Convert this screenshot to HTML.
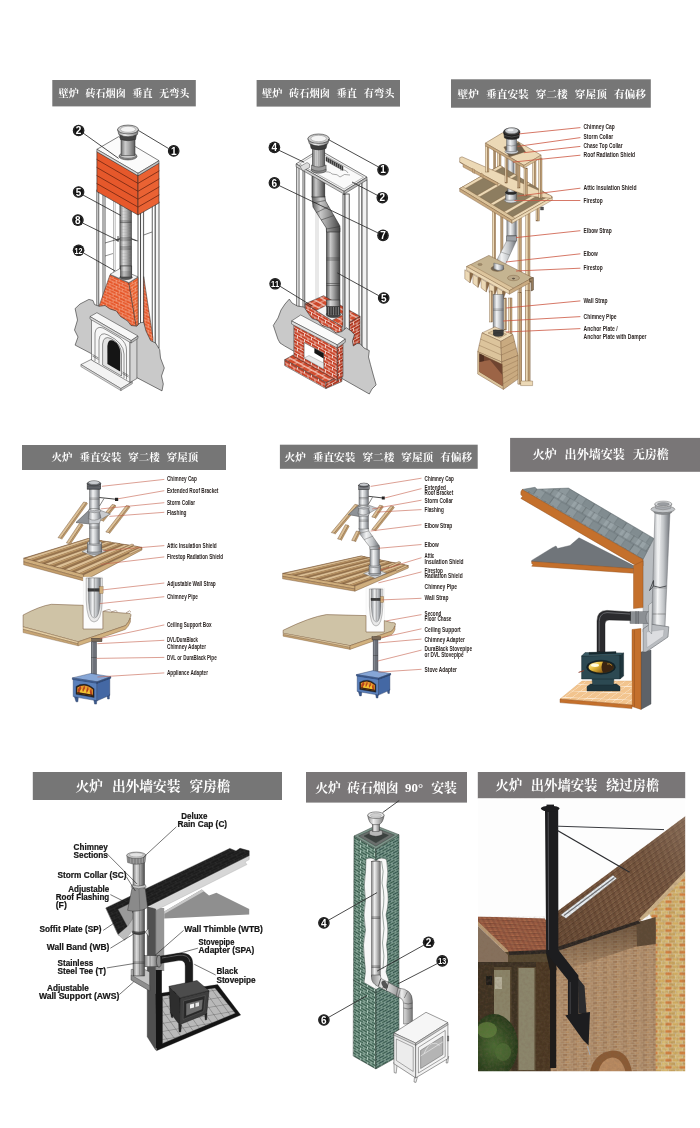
<!DOCTYPE html>
<html><head><meta charset="utf-8"><title>Chimney installation diagrams</title>
<style>
html,body{margin:0;padding:0;background:#fff;}
body{width:700px;height:1128px;overflow:hidden;font-family:"Liberation Sans",sans-serif;}
svg{display:block;filter:blur(0.35px);}
svg text{font-family:"Liberation Sans",sans-serif;}
svg text.ttl{font-family:"Liberation Serif","Noto Serif CJK SC",serif;font-weight:bold;}
</style></head><body>
<svg width="700" height="1128" viewBox="0 0 700 1128">
<defs>
<linearGradient id="pg" x1="0" x2="1" y1="0" y2="0"><stop offset="0" stop-color="#6e6e6e"/><stop offset=".3" stop-color="#d9d9d9"/><stop offset=".55" stop-color="#b5b5b5"/><stop offset="1" stop-color="#5a5a5a"/></linearGradient>
<pattern id="obL" width="6.4" height="6" patternUnits="userSpaceOnUse" patternTransform="skewY(24)"><rect width="6.4" height="6" fill="#e6582b"/><path d="M0,0.2H6.4M0,3.2H6.4M1,0.2V3.2M4.2,3.2V6" stroke="#fbd9c8" stroke-width="0.45" fill="none"/></pattern>
<pattern id="obR" width="6.4" height="6" patternUnits="userSpaceOnUse" patternTransform="skewY(-30)"><rect width="6.4" height="6" fill="#e8602f"/><path d="M0,0.2H6.4M0,3.2H6.4M1,0.2V3.2M4.2,3.2V6" stroke="#fbd9c8" stroke-width="0.45" fill="none"/></pattern>
<linearGradient id="pg2" x1="0" x2="1" y1="0" y2="0"><stop offset="0" stop-color="#8a8a8a"/><stop offset=".35" stop-color="#eeeeee"/><stop offset=".6" stop-color="#c4c4c4"/><stop offset="1" stop-color="#777"/></linearGradient>
<linearGradient id="pgd" x1="0" x2="1" y1="0" y2="0"><stop offset="0" stop-color="#5c5c5c"/><stop offset=".3" stop-color="#c9c9c9"/><stop offset=".55" stop-color="#9c9c9c"/><stop offset="1" stop-color="#444"/></linearGradient>
<pattern id="brkL" width="7" height="6.2" patternUnits="userSpaceOnUse" patternTransform="skewY(29)"><rect width="7" height="6.2" fill="#fbeee8"/><rect x="0.3" y="0.3" width="6.4" height="2.5" fill="#cb452a"/><rect x="-3.2" y="3.4" width="6.4" height="2.5" fill="#c43f26"/><rect x="3.8" y="3.4" width="6.4" height="2.5" fill="#c43f26"/></pattern>
<pattern id="brkR" width="7" height="6.2" patternUnits="userSpaceOnUse" patternTransform="skewY(-29)"><rect width="7" height="6.2" fill="#f3e0d8"/><rect x="0.3" y="0.3" width="6.4" height="2.5" fill="#b93c24"/><rect x="-3.2" y="3.4" width="6.4" height="2.5" fill="#b03821"/><rect x="3.8" y="3.4" width="6.4" height="2.5" fill="#b03821"/></pattern>
<pattern id="brkT" width="7" height="6.2" patternUnits="userSpaceOnUse" patternTransform="matrix(1 0.55 -1.6 0.9 0 0)"><rect width="7" height="6.2" fill="#fbeee8"/><rect x="0.3" y="0.3" width="6.4" height="2.5" fill="#d24d2e"/><rect x="-3.2" y="3.4" width="6.4" height="2.5" fill="#cc472a"/><rect x="3.8" y="3.4" width="6.4" height="2.5" fill="#cc472a"/></pattern>
<linearGradient id="sg" x1="0" x2="1" y1="0" y2="0"><stop offset="0" stop-color="#8b8f94"/><stop offset=".35" stop-color="#f2f3f4"/><stop offset=".65" stop-color="#c3c6c9"/><stop offset="1" stop-color="#70747a"/></linearGradient>
<pattern id="shg" width="16" height="12" patternUnits="userSpaceOnUse" patternTransform="matrix(1 0.59 -0.75 1.05 0 0)"><rect width="16" height="12" fill="#8d989c"/><rect x="0" y="0" width="7.6" height="5.6" fill="#98a3a7"/><rect x="8.4" y="6.2" width="7.4" height="5.6" fill="#818c90"/><rect x="8" y="0" width="8" height="5.8" fill="#8a9599"/><path d="M0,0H16M0,6H16M3.5,0V6M11.5,0V6M7.5,6V12M15.5,6V12" stroke="#5f696d" stroke-width="0.55" fill="none"/></pattern>
<pattern id="tile6" width="7.4" height="6.4" patternUnits="userSpaceOnUse" patternTransform="matrix(1 0.04 -1.35 1 0 0)"><rect width="7.4" height="6.4" fill="#f2c48e"/><path d="M0,0H7.4M0,0V6.4" stroke="#fff6ea" stroke-width="0.9" fill="none"/></pattern>
<linearGradient id="gold" x1="0" x2="1" y1="0" y2="1"><stop offset="0" stop-color="#fff6c8"/><stop offset=".45" stop-color="#e9c03e"/><stop offset="1" stop-color="#8a5a12"/></linearGradient>
<linearGradient id="blk" x1="0" x2="1" y1="0" y2="0"><stop offset="0" stop-color="#1c1c1e"/><stop offset=".35" stop-color="#55565a"/><stop offset="1" stop-color="#1a1a1c"/></linearGradient>
<linearGradient id="blkh" x1="0" x2="0" y1="0" y2="1"><stop offset="0" stop-color="#222224"/><stop offset=".35" stop-color="#5a5b5f"/><stop offset="1" stop-color="#19191b"/></linearGradient>
<pattern id="tile7" width="7.2" height="7.2" patternUnits="userSpaceOnUse" patternTransform="matrix(1 -0.17 0.72 1 0 0)"><rect width="7.2" height="7.2" fill="#b9b9b9"/><path d="M0,0H7.2M0,0V7.2" stroke="#4a4a4a" stroke-width="0.6" fill="none"/></pattern>
<linearGradient id="gp" x1="0" x2="1" y1="0" y2="0"><stop offset="0" stop-color="#7d7d7d"/><stop offset=".3" stop-color="#d8d8d8"/><stop offset=".6" stop-color="#a8a8a8"/><stop offset="1" stop-color="#4c4c4c"/></linearGradient>
<pattern id="shg7" width="8" height="5" patternUnits="userSpaceOnUse" patternTransform="matrix(1 -0.48 0.45 0.9 0 0)"><rect width="8" height="5" fill="#1c1c1c"/><path d="M0,0H8M0,2.5H8M2,0V2.5M6,2.5V5" stroke="#3a3a3a" stroke-width="0.4" fill="none"/></pattern>
<pattern id="gbL" width="7" height="5.2" patternUnits="userSpaceOnUse" patternTransform="skewY(30)"><rect width="7" height="5.2" fill="#c6dfd2"/><rect x="0.3" y="0.35" width="6.4" height="1.95" fill="#3d6252"/><rect x="-3.2" y="2.95" width="6.4" height="1.95" fill="#355849"/><rect x="3.8" y="2.95" width="6.4" height="1.95" fill="#355849"/></pattern>
<pattern id="gbR" width="7" height="5.2" patternUnits="userSpaceOnUse" patternTransform="skewY(-28)"><rect width="7" height="5.2" fill="#bcd6c9"/><rect x="0.3" y="0.35" width="6.4" height="1.95" fill="#31524a"/><rect x="-3.2" y="2.95" width="6.4" height="1.95" fill="#37594c"/><rect x="3.8" y="2.95" width="6.4" height="1.95" fill="#37594c"/></pattern>
<clipPath id="ph"><rect x="478" y="798.4" width="207.2" height="272.8"/></clipPath>
<pattern id="bw" width="10" height="5" patternUnits="userSpaceOnUse" patternTransform="matrix(1 -0.06 0 1 0 0)"><rect width="10" height="5" fill="#bda688"/><rect x="0.3" y="0.3" width="4.5" height="2" fill="#aa8461"/><rect x="5.3" y="0.3" width="4.4" height="2" fill="#b68c62"/><rect x="-2.2" y="2.8" width="4.5" height="2" fill="#b18b66"/><rect x="2.8" y="2.8" width="4.5" height="2" fill="#a07856"/><rect x="7.8" y="2.8" width="4.5" height="2" fill="#b18b66"/></pattern>
<pattern id="bw2" width="14" height="7.2" patternUnits="userSpaceOnUse"><rect width="14" height="7.2" fill="#d8c598"/><rect x="0.4" y="0.4" width="6.2" height="2.8" fill="#d3ae62"/><rect x="7.4" y="0.4" width="6.2" height="2.8" fill="#d2803e"/><rect x="-3.1" y="4" width="6.2" height="2.8" fill="#c9a45e"/><rect x="3.9" y="4" width="6.2" height="2.8" fill="#d7ba72"/><rect x="10.9" y="4" width="6.2" height="2.8" fill="#c9a45e"/></pattern>
<pattern id="rt" width="5" height="4" patternUnits="userSpaceOnUse" patternTransform="matrix(1 -0.74 0.35 1 0 0)"><rect width="5" height="4" fill="#7b5940"/><rect x="0" y="0" width="2.4" height="1.8" fill="#8a684c"/><rect x="2.6" y="2" width="2.3" height="1.8" fill="#6a4a34"/><path d="M0,0H5M0,2H5" stroke="#4e3626" stroke-width="0.45"/></pattern>
<pattern id="rt2" width="5" height="4" patternUnits="userSpaceOnUse" patternTransform="matrix(1 0.05 0.5 1 0 0)"><rect width="5" height="4" fill="#9c5c42"/><rect x="0" y="0" width="2.4" height="1.8" fill="#ad6a4a"/><rect x="2.6" y="2" width="2.3" height="1.8" fill="#8b4f3a"/><path d="M0,0H5M0,2H5" stroke="#663a2a" stroke-width="0.4"/></pattern>
<linearGradient id="roofsh" x1="0" x2="1" y1="1" y2="0"><stop offset="0" stop-color="#3a2618" stop-opacity=".35"/><stop offset=".5" stop-color="#3a2618" stop-opacity="0"/><stop offset="1" stop-color="#b9a79a" stop-opacity=".35"/></linearGradient>
<linearGradient id="eavesh" x1="0" x2="0" y1="0" y2="1"><stop offset="0" stop-color="#2a1c12" stop-opacity=".55"/><stop offset="1" stop-color="#2a1c12" stop-opacity="0"/></linearGradient>
<filter id="nz" x="0" y="0" width="1" height="1"><feTurbulence type="fractalNoise" baseFrequency="0.35" numOctaves="2" seed="4"/><feColorMatrix type="matrix" values="0 0 0 0 0.2  0 0 0 0 0.13  0 0 0 0 0.08  0 0 0 0.9 -0.32"/></filter>
<filter id="bl9"><feGaussianBlur stdDeviation="0.5"/></filter>
<radialGradient id="bush"><stop offset="0" stop-color="#4a6a32"/><stop offset="1" stop-color="#26391a"/></radialGradient>
</defs>
<rect width="700" height="1128" fill="#fff"/>
<rect x="52.3" y="80" width="143.5" height="26.4" fill="#767676"/><text class="ttl" y="96.9" font-size="10.1" fill="#fff"><tspan x="58.6">壁炉</tspan><tspan x="85.4">砖石烟囱</tspan><tspan x="132.3">垂直</tspan><tspan x="159.1">无弯头</tspan></text>
<rect x="256.6" y="80" width="143.4" height="26.6" fill="#767676"/><text class="ttl" y="97.1" font-size="10.22" fill="#fff"><tspan x="262">壁炉</tspan><tspan x="289.1">砖石烟囱</tspan><tspan x="336.6">垂直</tspan><tspan x="363.7">有弯头</tspan></text>
<rect x="451" y="79.3" width="199.8" height="28.4" fill="#767676"/><text class="ttl" y="97.5" font-size="10.7" fill="#fff"><tspan x="457.6">壁炉</tspan><tspan x="486">垂直安装</tspan><tspan x="535.7">穿二楼</tspan><tspan x="574.8">穿屋顶</tspan><tspan x="613.9">有偏移</tspan></text>
<rect x="22" y="445" width="204" height="25" fill="#767676"/><text class="ttl" y="461.4" font-size="10.51" fill="#fff"><tspan x="51.6">火炉</tspan><tspan x="79.4">垂直安装</tspan><tspan x="128.3">穿二楼</tspan><tspan x="166.7">穿屋顶</tspan></text>
<rect x="279.9" y="444.7" width="197.8" height="24.1" fill="#767676"/><text class="ttl" y="460.7" font-size="10.66" fill="#fff"><tspan x="284.5">火炉</tspan><tspan x="312.8">垂直安装</tspan><tspan x="362.4">穿二楼</tspan><tspan x="401.3">穿屋顶</tspan><tspan x="440.2">有偏移</tspan></text>
<rect x="510.1" y="437.9" width="189.9" height="33.9" fill="#797677"/><text class="ttl" y="459.3" font-size="12.06" fill="#fff"><tspan x="532.6">火炉</tspan><tspan x="564.6">出外墙安装</tspan><tspan x="632.7">无房檐</tspan></text>
<rect x="32.8" y="772" width="249.2" height="28" fill="#767676"/><text class="ttl" y="791.1" font-size="13.72" fill="#fff"><tspan x="75.6">火炉</tspan><tspan x="111.9">出外墙安装</tspan><tspan x="189.4">穿房檐</tspan></text>
<rect x="306" y="772" width="161" height="30.6" fill="#7a7778"/><text class="ttl" y="792" font-size="12.84" fill="#fff"><tspan x="315.2">火炉</tspan><tspan x="347.3">砖石烟囱</tspan><tspan x="405.1">90°</tspan><tspan x="431.3">安装</tspan></text>
<rect x="477.8" y="772" width="207.4" height="26.4" fill="#797677"/><text class="ttl" y="790.1" font-size="13.3" fill="#fff"><tspan x="495.6">火炉</tspan><tspan x="530.8">出外墙安装</tspan><tspan x="606">绕过房檐</tspan></text>
<g id="c1"><line x1="113.5" y1="200" x2="113.5" y2="300" stroke="#777" stroke-width="0.5" />
<line x1="115.2" y1="200" x2="115.2" y2="300" stroke="#777" stroke-width="0.5" />
<line x1="143.2" y1="212" x2="143.2" y2="276" stroke="#777" stroke-width="0.5" />
<rect x="96.9" y="190" width="1.9" height="118" fill="#fff" stroke="#2b2b2b" stroke-width="0.75" />
<rect x="103" y="190" width="2" height="118" fill="#fff" stroke="#2b2b2b" stroke-width="0.75" />
<rect x="138" y="212" width="2.4" height="112" fill="#fff" stroke="#2b2b2b" stroke-width="0.75" />
<rect x="140.4" y="210" width="3.3" height="114" fill="#f4f4f4" stroke="#2b2b2b" stroke-width="0.75" />
<rect x="152.2" y="204" width="3" height="140" fill="#fff" stroke="#2b2b2b" stroke-width="0.75" />
<rect x="155.2" y="202" width="3.8" height="146" fill="#f4f4f4" stroke="#2b2b2b" stroke-width="0.75" />
<line x1="105" y1="243" x2="120" y2="238.5" stroke="#2b2b2b" stroke-width="0.6" />
<line x1="131" y1="238.5" x2="138" y2="241" stroke="#2b2b2b" stroke-width="0.6" />
<line x1="143.7" y1="235" x2="152" y2="232" stroke="#2b2b2b" stroke-width="0.6" />
<line x1="105" y1="256" x2="113" y2="253.5" stroke="#2b2b2b" stroke-width="0.5" />
<rect x="119.9" y="204" width="11.6" height="74" fill="url(#pg)" stroke="#2b2b2b" stroke-width="0.5" />
<line x1="119.9" y1="221" x2="131.5" y2="221" stroke="#333" stroke-width="0.5" />
<line x1="119.9" y1="222.5" x2="131.5" y2="222.5" stroke="#333" stroke-width="0.5" />
<line x1="119.9" y1="238" x2="131.5" y2="238" stroke="#333" stroke-width="0.5" />
<line x1="119.9" y1="240" x2="131.5" y2="240" stroke="#333" stroke-width="0.5" />
<line x1="119.9" y1="247" x2="131.5" y2="247" stroke="#333" stroke-width="0.5" />
<line x1="119.9" y1="249" x2="131.5" y2="249" stroke="#333" stroke-width="0.5" />
<line x1="119.9" y1="266" x2="131.5" y2="266" stroke="#333" stroke-width="0.5" />
<line x1="119.9" y1="268" x2="131.5" y2="268" stroke="#333" stroke-width="0.5" />
<line x1="121" y1="208.5" x2="130.5" y2="208.5" stroke="#999" stroke-width="0.2" />
<line x1="121" y1="211.5" x2="130.5" y2="211.5" stroke="#999" stroke-width="0.2" />
<line x1="121" y1="214.5" x2="130.5" y2="214.5" stroke="#999" stroke-width="0.2" />
<line x1="121" y1="217.5" x2="130.5" y2="217.5" stroke="#999" stroke-width="0.2" />
<line x1="121" y1="220.5" x2="130.5" y2="220.5" stroke="#999" stroke-width="0.2" />
<line x1="121" y1="223.5" x2="130.5" y2="223.5" stroke="#999" stroke-width="0.2" />
<line x1="121" y1="226.5" x2="130.5" y2="226.5" stroke="#999" stroke-width="0.2" />
<line x1="121" y1="229.5" x2="130.5" y2="229.5" stroke="#999" stroke-width="0.2" />
<line x1="121" y1="232.5" x2="130.5" y2="232.5" stroke="#999" stroke-width="0.2" />
<line x1="121" y1="235.5" x2="130.5" y2="235.5" stroke="#999" stroke-width="0.2" />
<line x1="121" y1="238.5" x2="130.5" y2="238.5" stroke="#999" stroke-width="0.2" />
<line x1="121" y1="241.5" x2="130.5" y2="241.5" stroke="#999" stroke-width="0.2" />
<line x1="121" y1="244.5" x2="130.5" y2="244.5" stroke="#999" stroke-width="0.2" />
<line x1="121" y1="247.5" x2="130.5" y2="247.5" stroke="#999" stroke-width="0.2" />
<line x1="121" y1="250.5" x2="130.5" y2="250.5" stroke="#999" stroke-width="0.2" />
<line x1="121" y1="253.5" x2="130.5" y2="253.5" stroke="#999" stroke-width="0.2" />
<line x1="121" y1="256.5" x2="130.5" y2="256.5" stroke="#999" stroke-width="0.2" />
<line x1="121" y1="259.5" x2="130.5" y2="259.5" stroke="#999" stroke-width="0.2" />
<line x1="121" y1="262.5" x2="130.5" y2="262.5" stroke="#999" stroke-width="0.2" />
<line x1="121" y1="265.5" x2="130.5" y2="265.5" stroke="#999" stroke-width="0.2" />
<line x1="121" y1="268.5" x2="130.5" y2="268.5" stroke="#999" stroke-width="0.2" />
<line x1="121" y1="271.5" x2="130.5" y2="271.5" stroke="#999" stroke-width="0.2" />
<line x1="121" y1="274.5" x2="130.5" y2="274.5" stroke="#999" stroke-width="0.2" />
<path d="M116,240.5 L120,239 M131.5,239 L136.5,240.8 M118,236 l0,6" fill="none" stroke="#2b2b2b" stroke-width="0.8" stroke-linejoin="round" />
<polygon points="96.9,151.5 138,175.5 138,215 96.9,191.6" fill="#e6582b" stroke="#2b2b2b" stroke-width="0.6" stroke-linejoin="round" />
<polygon points="138,175.5 159,163 159,203 138,215" fill="#ea6233" stroke="#2b2b2b" stroke-width="0.6" stroke-linejoin="round" />
<polyline points="96.9,159.5 138,183.4 159,171" fill="none" stroke="#6d2410" stroke-width="0.8" stroke-linejoin="round" stroke-linecap="round" />
<polyline points="96.9,167.5 138,191.3 159,179" fill="none" stroke="#6d2410" stroke-width="0.8" stroke-linejoin="round" stroke-linecap="round" />
<polyline points="96.9,175.6 138,199.2 159,187" fill="none" stroke="#6d2410" stroke-width="0.8" stroke-linejoin="round" stroke-linecap="round" />
<polyline points="96.9,183.6 138,207.1 159,195" fill="none" stroke="#6d2410" stroke-width="0.8" stroke-linejoin="round" stroke-linecap="round" />
<polygon points="96.9,149.3 118.6,136.7 159,160.7 138,173.3" fill="#fbfbfb" stroke="#2b2b2b" stroke-width="0.6" stroke-linejoin="round" />
<polygon points="96.9,149.3 138,173.3 138,175.8 96.9,151.8" fill="#d8d8d8" stroke="#2b2b2b" stroke-width="0.5" stroke-linejoin="round" />
<polygon points="138,173.3 159,160.7 159,163.2 138,175.8" fill="#c4c4c4" stroke="#2b2b2b" stroke-width="0.5" stroke-linejoin="round" />
<ellipse cx="128" cy="156.3" rx="9" ry="3.6" fill="#8e8e8e" stroke="#2b2b2b" stroke-width="0.6" />
<ellipse cx="128" cy="155.2" rx="8.2" ry="3.1" fill="#c9c9c9" stroke="#2b2b2b" stroke-width="0.4" />
<rect x="121" y="138" width="14" height="17.5" fill="url(#pg)" stroke="#2b2b2b" stroke-width="0.5" />
<line x1="123" y1="140" x2="123" y2="155" stroke="#777" stroke-width="0.25" />
<line x1="125" y1="140" x2="125" y2="155" stroke="#777" stroke-width="0.25" />
<line x1="127" y1="140" x2="127" y2="155" stroke="#777" stroke-width="0.25" />
<line x1="129" y1="140" x2="129" y2="155" stroke="#777" stroke-width="0.25" />
<line x1="131" y1="140" x2="131" y2="155" stroke="#777" stroke-width="0.25" />
<line x1="133" y1="140" x2="133" y2="155" stroke="#777" stroke-width="0.25" />
<path d="M119.5,134.5 L136.5,134.5 L135.5,139.5 Q128,142 120.5,139.5 Z" fill="#444" stroke="#2b2b2b" stroke-width="0.5" stroke-linejoin="round" />
<path d="M117.6,129.5 L118.8,134.5 Q128,139 137.4,134.5 L138.4,129.5 Z" fill="url(#pg2)" stroke="#2b2b2b" stroke-width="0.5" stroke-linejoin="round" />
<ellipse cx="128" cy="129.5" rx="10.4" ry="4.4" fill="#cfcfcf" stroke="#2b2b2b" stroke-width="0.6" />
<ellipse cx="128" cy="129.3" rx="7.6" ry="3" fill="#f3f3f3" stroke="#777" stroke-width="0.4" />
<polygon points="110,274.7 128.9,283 137.2,332 97,312" fill="url(#obL)" stroke="#2b2b2b" stroke-width="0.5" stroke-linejoin="round" />
<polygon points="128.9,283 138,277.3 138.2,326 137.2,332" fill="url(#obR)" stroke="#2b2b2b" stroke-width="0.5" stroke-linejoin="round" />
<polygon points="143.7,276.6 153,338 153,348 143.7,330" fill="url(#obL)" stroke="#2b2b2b" stroke-width="0.5" stroke-linejoin="round" />
<polygon points="110,274.3 119.5,268.8 138,276.9 128.9,282.6" fill="#f4f4f4" stroke="#2b2b2b" stroke-width="0.5" stroke-linejoin="round" />
<ellipse cx="126" cy="277.3" rx="6.2" ry="2.4" fill="#555" stroke="#2b2b2b" stroke-width="0.4" />
<rect x="120.4" y="266" width="11.4" height="11" fill="url(#pg)" stroke="#2b2b2b" stroke-width="0.5" />
<line x1="122" y1="271" x2="122" y2="277" stroke="#444" stroke-width="0.35" />
<line x1="124" y1="271" x2="124" y2="277" stroke="#444" stroke-width="0.35" />
<line x1="126" y1="271" x2="126" y2="277" stroke="#444" stroke-width="0.35" />
<line x1="128" y1="271" x2="128" y2="277" stroke="#444" stroke-width="0.35" />
<line x1="130" y1="271" x2="130" y2="277" stroke="#444" stroke-width="0.35" />
<polygon points="75.1,308.6 80,304 88.9,299.4 93,300.5 94.5,304.5 99.1,306.3 105,305.5 110,309 116.3,310.9 120.5,316.5 127.7,321.1 131,325.5 136.9,326.2 140,322.8 143.7,322.3 146,331 150.6,340.6 155.5,343 159.7,349.7 160.5,358 164.3,368 161.5,376 163.3,384 162,390.9 75.1,345.1 78,337 74.5,330 77.5,320" fill="#c9c9c9" stroke="#2b2b2b" stroke-width="0.6" stroke-linejoin="round" />
<polygon points="80.9,364.6 91.1,359.5 132.3,381.7 120.9,388.6" fill="#f3f3f3" stroke="#2b2b2b" stroke-width="0.5" stroke-linejoin="round" />
<polygon points="80.9,364.6 120.9,388.6 120.9,390.6 80.9,366.6" fill="#ddd" stroke="#2b2b2b" stroke-width="0.4" stroke-linejoin="round" />
<polygon points="120.9,388.6 132.3,381.7 132.3,383.7 120.9,390.6" fill="#ccc" stroke="#2b2b2b" stroke-width="0.4" stroke-linejoin="round" />
<polygon points="91.5,319 130,341.5 130,382.5 91.5,360" fill="#f6f6f6" stroke="#2b2b2b" stroke-width="0.5" stroke-linejoin="round" />
<polygon points="130,341.5 136.9,337.5 136.9,378.5 130,382.5" fill="#d4d4d4" stroke="#2b2b2b" stroke-width="0.5" stroke-linejoin="round" />
<path d="M95,361 L95,333 Q96,325.5 103,328 L120,338 Q126.5,343 126.5,350 L126.5,379.5" fill="none" stroke="#2b2b2b" stroke-width="0.5" stroke-linejoin="round" />
<path d="M99,363.5 L99,340 Q100,331 108,335 Q123.5,342.5 124,354 L124,378" fill="none" stroke="#2b2b2b" stroke-width="0.5" stroke-linejoin="round" />
<path d="M102.6,365 L102.6,344 Q103.6,335 111,338.6 Q121,343.5 121.5,354 L121.5,376 Z" fill="#e2e2e2" stroke="#2b2b2b" stroke-width="0.5" stroke-linejoin="round" />
<path d="M107.4,364 L107.4,346 Q108,338.6 113,340.6 Q120,344.2 120.2,352.5 L120.2,371.4 Z" fill="#151515" stroke="none" stroke-width="0" stroke-linejoin="round" />
<path d="M92.5,354.5 l6,3.5 M92.5,356 l6,3.5 M122.5,372 l6,3.5 M122.5,373.5 l6,3.5" fill="none" stroke="#2b2b2b" stroke-width="0.5" stroke-linejoin="round" />
<polygon points="90,316.6 96.9,312.7 138,336 131.1,340.6" fill="#f7f7f7" stroke="#2b2b2b" stroke-width="0.5" stroke-linejoin="round" />
<polygon points="90,316.6 131.1,340.6 131.1,343 90,319" fill="#dcdcdc" stroke="#2b2b2b" stroke-width="0.45" stroke-linejoin="round" />
<polygon points="131.1,340.6 138,336 138,338.4 131.1,343" fill="#bdbdbd" stroke="#2b2b2b" stroke-width="0.45" stroke-linejoin="round" />
<line x1="83" y1="133" x2="118.6" y2="158.4" stroke="#2b2b2b" stroke-width="0.85" />
<line x1="168.5" y1="148.5" x2="138.5" y2="130.5" stroke="#2b2b2b" stroke-width="0.85" />
<line x1="83" y1="195" x2="121" y2="215.6" stroke="#2b2b2b" stroke-width="0.85" />
<line x1="82.5" y1="223" x2="118.6" y2="240.7" stroke="#2b2b2b" stroke-width="0.85" />
<line x1="83.5" y1="253" x2="115" y2="270.9" stroke="#2b2b2b" stroke-width="0.85" />
<circle cx="78.6" cy="130.5" r="5.8" fill="#111"/><circle cx="78.6" cy="130.5" r="4.8" fill="none" stroke="#777" stroke-width="0.3"/><text x="78.6" y="134.1" font-size="10" font-weight="bold" fill="#fff" text-anchor="middle">2</text>
<circle cx="173.7" cy="150.9" r="5.8" fill="#111"/><circle cx="173.7" cy="150.9" r="4.8" fill="none" stroke="#777" stroke-width="0.3"/><text x="173.7" y="154.5" font-size="10" font-weight="bold" fill="#fff" text-anchor="middle">1</text>
<circle cx="78.6" cy="192" r="5.8" fill="#111"/><circle cx="78.6" cy="192" r="4.8" fill="none" stroke="#777" stroke-width="0.3"/><text x="78.6" y="195.6" font-size="10" font-weight="bold" fill="#fff" text-anchor="middle">5</text>
<circle cx="77.9" cy="220.1" r="5.8" fill="#111"/><circle cx="77.9" cy="220.1" r="4.8" fill="none" stroke="#777" stroke-width="0.3"/><text x="77.9" y="223.7" font-size="10" font-weight="bold" fill="#fff" text-anchor="middle">8</text>
<circle cx="78.6" cy="250.3" r="5.8" fill="#111"/><circle cx="78.6" cy="250.3" r="4.8" fill="none" stroke="#777" stroke-width="0.3"/><text x="78.6" y="253.5" font-size="9" font-weight="bold" fill="#fff" text-anchor="middle" textLength="8" lengthAdjust="spacingAndGlyphs">12</text></g>
<g id="c2"><line x1="316" y1="178" x2="316" y2="300" stroke="#888" stroke-width="0.4" />
<line x1="318" y1="178" x2="318" y2="300" stroke="#888" stroke-width="0.4" />
<rect x="296.8" y="166" width="2.2" height="142" fill="#fff" stroke="#2b2b2b" stroke-width="0.75" />
<rect x="303" y="168" width="1.8" height="142" fill="#fff" stroke="#2b2b2b" stroke-width="0.75" />
<rect x="359" y="182" width="3" height="164" fill="#fff" stroke="#2b2b2b" stroke-width="0.75" />
<rect x="362" y="180" width="5" height="172" fill="#f2f2f2" stroke="#2b2b2b" stroke-width="0.75" />
<rect x="326.5" y="228" width="13.4" height="88" fill="url(#pgd)" stroke="#2b2b2b" stroke-width="0.6" />
<line x1="326.5" y1="258" x2="339.9" y2="258" stroke="#333" stroke-width="0.5" />
<line x1="326.5" y1="260" x2="339.9" y2="260" stroke="#333" stroke-width="0.5" />
<line x1="326.5" y1="283.5" x2="339.9" y2="283.5" stroke="#333" stroke-width="0.5" />
<line x1="326.5" y1="285.5" x2="339.9" y2="285.5" stroke="#333" stroke-width="0.5" />
<line x1="326.5" y1="302" x2="339.9" y2="302" stroke="#333" stroke-width="0.5" />
<line x1="326.5" y1="304" x2="339.9" y2="304" stroke="#333" stroke-width="0.5" />
<path d="M312,196 L324.8,196 L325.5,201 L339.9,226 L339.9,232 L326.5,232 L326.3,228 L313,207 Z" fill="url(#pgd)" stroke="#2b2b2b" stroke-width="0.6" stroke-linejoin="round" />
<path d="M312.6,203 L325.2,200.5 M316.5,212.5 L329,206.5 M321,220 L334,215.5 M326.4,229 L339.9,226.5" fill="none" stroke="#333" stroke-width="0.5" stroke-linejoin="round" />
<rect x="312" y="176" width="12.8" height="21" fill="url(#pgd)" stroke="#2b2b2b" stroke-width="0.6" />
<polygon points="296.1,163.9 319,149.7 367,177.1 344.1,191.3" fill="#f1f1f1" stroke="#2b2b2b" stroke-width="0.6" stroke-linejoin="round" />
<polygon points="299.5,164 319,152 363.5,177.2 344.1,189" fill="#fafafa" stroke="#555" stroke-width="0.4" stroke-linejoin="round" />
<polygon points="296.1,163.9 344.1,191.3 344.1,194.1 296.1,166.7" fill="#cfcfcf" stroke="#2b2b2b" stroke-width="0.5" stroke-linejoin="round" />
<polygon points="344.1,191.3 367,177.1 367,179.9 344.1,194.1" fill="#b9b9b9" stroke="#2b2b2b" stroke-width="0.5" stroke-linejoin="round" />
<path d="M326,157 L343,166.5 L343,170.5 L326,161 Z" fill="#3a3a3a" stroke="#2b2b2b" stroke-width="0.4" stroke-linejoin="round" />
<line x1="327.5" y1="158.2" x2="327.5" y2="161.8" stroke="#ddd" stroke-width="0.4" />
<line x1="329.5" y1="159.3" x2="329.5" y2="162.9" stroke="#ddd" stroke-width="0.4" />
<line x1="331.5" y1="160.4" x2="331.5" y2="164" stroke="#ddd" stroke-width="0.4" />
<line x1="333.5" y1="161.6" x2="333.5" y2="165.2" stroke="#ddd" stroke-width="0.4" />
<line x1="335.5" y1="162.7" x2="335.5" y2="166.3" stroke="#ddd" stroke-width="0.4" />
<line x1="337.5" y1="163.8" x2="337.5" y2="167.4" stroke="#ddd" stroke-width="0.4" />
<line x1="339.5" y1="164.9" x2="339.5" y2="168.5" stroke="#ddd" stroke-width="0.4" />
<line x1="341.5" y1="166" x2="341.5" y2="169.6" stroke="#ddd" stroke-width="0.4" />
<path d="M322,172 q8,-1 10,2 q6,0 8,3 q4,-4 10,-2 M340,170 q6,-1 8,3" fill="none" stroke="#444" stroke-width="0.45" stroke-linejoin="round" />
<path d="M300,166.5 l7,-4 l2.5,1.5 l0,3.5 l-6.5,3.5 Z" fill="#ddd" stroke="#2b2b2b" stroke-width="0.4" stroke-linejoin="round" />
<ellipse cx="318.8" cy="170" rx="7.6" ry="3.2" fill="#8c8c8c" stroke="#2b2b2b" stroke-width="0.5" />
<rect x="312.4" y="146" width="12.4" height="23" fill="url(#pg)" stroke="#2b2b2b" stroke-width="0.5" />
<path d="M311.5,165 q7.3,4 14.6,0 l0,4.2 q-7.3,4 -14.6,0 Z" fill="#9c9c9c" stroke="#2b2b2b" stroke-width="0.45" stroke-linejoin="round" />
<line x1="314.5" y1="149" x2="314.5" y2="166" stroke="#777" stroke-width="0.25" />
<line x1="316.5" y1="149" x2="316.5" y2="166" stroke="#777" stroke-width="0.25" />
<line x1="318.5" y1="149" x2="318.5" y2="166" stroke="#777" stroke-width="0.25" />
<line x1="320.5" y1="149" x2="320.5" y2="166" stroke="#777" stroke-width="0.25" />
<line x1="322.5" y1="149" x2="322.5" y2="166" stroke="#777" stroke-width="0.25" />
<path d="M310,143.5 L327.2,143.5 L326,148.5 Q318.6,151.5 311.2,148.5 Z" fill="#3d3d3d" stroke="#2b2b2b" stroke-width="0.5" stroke-linejoin="round" />
<path d="M307.9,138.7 L309.3,143.6 Q318.6,148.5 327.9,143.6 L329.3,138.7 Z" fill="url(#pg2)" stroke="#2b2b2b" stroke-width="0.5" stroke-linejoin="round" />
<ellipse cx="318.6" cy="138.7" rx="10.7" ry="4.7" fill="#cfcfcf" stroke="#2b2b2b" stroke-width="0.6" />
<ellipse cx="318.6" cy="138.5" rx="7.8" ry="3.2" fill="#f4f4f4" stroke="#777" stroke-width="0.4" />
<polygon points="305.3,303.7 323.6,295.7 360.1,316.3 341.9,326.6" fill="url(#brkT)" stroke="#2b2b2b" stroke-width="0.5" stroke-linejoin="round" />
<polygon points="305.3,303.7 341.9,326.6 341.9,350 305.3,328" fill="url(#brkL)" stroke="#2b2b2b" stroke-width="0.5" stroke-linejoin="round" />
<polygon points="349.3,322.5 360.1,316.3 360.1,346 349.3,352" fill="url(#brkR)" stroke="#2b2b2b" stroke-width="0.5" stroke-linejoin="round" />
<polygon points="316,310.5 327,305 343,314.5 332,320.5" fill="#f4f4f4" stroke="#2b2b2b" stroke-width="0.45" stroke-linejoin="round" />
<ellipse cx="333.4" cy="314.6" rx="7.2" ry="3.1" fill="#444" stroke="#2b2b2b" stroke-width="0.4" />
<rect x="326.6" y="306" width="13.4" height="8" fill="#3a3a3a" stroke="#2b2b2b" stroke-width="0.4" />
<line x1="328.5" y1="307" x2="328.5" y2="315" stroke="#bbb" stroke-width="0.5" />
<line x1="331" y1="307" x2="331" y2="315" stroke="#bbb" stroke-width="0.5" />
<line x1="333.5" y1="307" x2="333.5" y2="315" stroke="#bbb" stroke-width="0.5" />
<line x1="336" y1="307" x2="336" y2="315" stroke="#bbb" stroke-width="0.5" />
<line x1="338.5" y1="307" x2="338.5" y2="315" stroke="#bbb" stroke-width="0.5" />
<rect x="326.5" y="300" width="13.4" height="6.5" fill="url(#pg)" stroke="#2b2b2b" stroke-width="0.5" />
<rect x="343" y="194.3" width="2" height="139.7" fill="#fff" stroke="#2b2b2b" stroke-width="0.75" />
<rect x="345" y="194" width="4.2" height="139" fill="#f2f2f2" stroke="#2b2b2b" stroke-width="0.75" />
<polygon points="289.3,299.1 292,303 297.3,306 304.1,307.1 308,313 312.1,318.6 318,320.5 322,325.5 330,328 336,333 341.9,331.5 346.4,327.7 351,331 354.4,334.6 352.5,341 353.3,346 357,343.5 360.1,343.7 364,348 369.3,350.6 368.5,357 370.4,364.3 373,374 376.1,384.9 372,389 369.3,394 284.7,346 280,343 277.9,339.1 275.5,332 273.3,325.4 278,318 281,310 285,304" fill="#c9c9c9" stroke="#2b2b2b" stroke-width="0.6" stroke-linejoin="round" />
<polygon points="284.7,359.7 293,355 341.9,375.7 325.9,382.6" fill="url(#brkT)" stroke="#2b2b2b" stroke-width="0.5" stroke-linejoin="round" />
<polygon points="284.7,359.7 325.9,382.6 325.9,388.6 284.7,365.6" fill="url(#brkL)" stroke="#2b2b2b" stroke-width="0.5" stroke-linejoin="round" />
<polygon points="325.9,382.6 341.9,375.7 341.9,381.5 325.9,388.6" fill="url(#brkR)" stroke="#2b2b2b" stroke-width="0.5" stroke-linejoin="round" />
<polygon points="293.9,322.5 337.3,346.5 337.3,380.5 293.9,356.5" fill="url(#brkL)" stroke="#2b2b2b" stroke-width="0.5" stroke-linejoin="round" />
<polygon points="337.3,346.5 343,343 343,376.5 337.3,380.5" fill="url(#brkR)" stroke="#2b2b2b" stroke-width="0.5" stroke-linejoin="round" />
<polygon points="304.1,342.6 323.6,353.2 323.6,368.9 304.1,358" fill="#fff" stroke="#2b2b2b" stroke-width="0.45" stroke-linejoin="round" />
<polygon points="314.4,348.2 323.6,353.2 323.6,358.5 314.4,353" fill="#161616" stroke="none" stroke-width="0" stroke-linejoin="round" />
<polygon points="304.1,358 309,355.5 323.6,363 323.6,368.9" fill="#e8e8e8" stroke="#555" stroke-width="0.3" stroke-linejoin="round" />
<polygon points="291.6,320.9 300.7,315 345.3,339 337.3,344.9" fill="#fafafa" stroke="#2b2b2b" stroke-width="0.5" stroke-linejoin="round" />
<polygon points="291.6,320.9 337.3,344.9 337.3,348 291.6,324" fill="#dedede" stroke="#2b2b2b" stroke-width="0.45" stroke-linejoin="round" />
<polygon points="337.3,344.9 345.3,339 345.3,342.2 337.3,348" fill="#c2c2c2" stroke="#2b2b2b" stroke-width="0.45" stroke-linejoin="round" />
<line x1="279" y1="150.3" x2="304.1" y2="162.3" stroke="#2b2b2b" stroke-width="0.85" />
<line x1="279" y1="185.5" x2="378.4" y2="233.1" stroke="#2b2b2b" stroke-width="0.85" />
<line x1="378.4" y1="166.9" x2="328.1" y2="139.4" stroke="#2b2b2b" stroke-width="0.85" />
<line x1="377.5" y1="195.4" x2="352" y2="182" stroke="#2b2b2b" stroke-width="0.85" />
<line x1="280.1" y1="286.3" x2="312.1" y2="306" stroke="#2b2b2b" stroke-width="0.85" />
<line x1="378.6" y1="295.6" x2="337.3" y2="272.9" stroke="#2b2b2b" stroke-width="0.85" />
<circle cx="274.4" cy="147.4" r="5.8" fill="#111"/><circle cx="274.4" cy="147.4" r="4.8" fill="none" stroke="#777" stroke-width="0.3"/><text x="274.4" y="151" font-size="10" font-weight="bold" fill="#fff" text-anchor="middle">4</text>
<circle cx="274.4" cy="182.9" r="5.8" fill="#111"/><circle cx="274.4" cy="182.9" r="4.8" fill="none" stroke="#777" stroke-width="0.3"/><text x="274.4" y="186.5" font-size="10" font-weight="bold" fill="#fff" text-anchor="middle">6</text>
<circle cx="383" cy="169.8" r="5.8" fill="#111"/><circle cx="383" cy="169.8" r="4.8" fill="none" stroke="#777" stroke-width="0.3"/><text x="383" y="173.4" font-size="10" font-weight="bold" fill="#fff" text-anchor="middle">1</text>
<circle cx="382.3" cy="197.7" r="5.8" fill="#111"/><circle cx="382.3" cy="197.7" r="4.8" fill="none" stroke="#777" stroke-width="0.3"/><text x="382.3" y="201.3" font-size="10" font-weight="bold" fill="#fff" text-anchor="middle">2</text>
<circle cx="383" cy="235.4" r="5.8" fill="#111"/><circle cx="383" cy="235.4" r="4.8" fill="none" stroke="#777" stroke-width="0.3"/><text x="383" y="239" font-size="10" font-weight="bold" fill="#fff" text-anchor="middle">7</text>
<circle cx="275.1" cy="283.8" r="5.8" fill="#111"/><circle cx="275.1" cy="283.8" r="4.8" fill="none" stroke="#777" stroke-width="0.3"/><text x="275.1" y="287" font-size="9" font-weight="bold" fill="#fff" text-anchor="middle" textLength="8" lengthAdjust="spacingAndGlyphs">11</text>
<circle cx="383.7" cy="298" r="5.8" fill="#111"/><circle cx="383.7" cy="298" r="4.8" fill="none" stroke="#777" stroke-width="0.3"/><text x="383.7" y="301.6" font-size="10" font-weight="bold" fill="#fff" text-anchor="middle">5</text></g>
<g id="c3"><rect x="492.3" y="205" width="1.9" height="57" fill="#ecd9b6" stroke="#7a5a3a" stroke-width="0.4" /><rect x="494.2" y="205" width="1.5" height="57" fill="#c9aa80" stroke="#7a5a3a" stroke-width="0.4" />
<rect x="500.5" y="208" width="1.4" height="50" fill="#ecd9b6" stroke="#7a5a3a" stroke-width="0.4" /><rect x="501.9" y="208" width="1.1" height="50" fill="#c9aa80" stroke="#7a5a3a" stroke-width="0.4" />
<rect x="518" y="212" width="1.9" height="172" fill="#ecd9b6" stroke="#7a5a3a" stroke-width="0.4" /><rect x="519.9" y="212" width="1.5" height="172" fill="#c9aa80" stroke="#7a5a3a" stroke-width="0.4" />
<rect x="525.7" y="210" width="2.4" height="174" fill="#ecd9b6" stroke="#7a5a3a" stroke-width="0.4" /><rect x="528.1" y="210" width="1.9" height="174" fill="#c9aa80" stroke="#7a5a3a" stroke-width="0.4" />
<rect x="536" y="204" width="1.8" height="17" fill="#ecd9b6" stroke="#7a5a3a" stroke-width="0.4" /><rect x="537.8" y="204" width="1.4" height="17" fill="#c9aa80" stroke="#7a5a3a" stroke-width="0.4" />
<path d="M540.5,207 l3,0 l0,3 l-3,0 Z" fill="#555" stroke="#222" stroke-width="0.3" stroke-linejoin="round" />
<rect x="506.9" y="214" width="9.4" height="22" fill="url(#sg)" stroke="#555" stroke-width="0.4" />
<path d="M506.9,235.5 L516.3,235.5 L516.3,241 L503.6,268.5 L493.8,266 L506.6,241 Z" fill="url(#sg)" stroke="#555" stroke-width="0.4" stroke-linejoin="round" />
<path d="M506.5,236 L516.5,236 L516.5,241 L506.5,241 Z" fill="#9ea2a7" stroke="#444" stroke-width="0.4" stroke-linejoin="round" />
<path d="M500.8,252 l9,3 M496,262 l9,2.6" fill="none" stroke="#666" stroke-width="0.4" stroke-linejoin="round" />
<rect x="493.2" y="150" width="1.4" height="38" fill="#ecd9b6" stroke="#7a5a3a" stroke-width="0.4" /><rect x="494.6" y="150" width="1.2" height="38" fill="#c9aa80" stroke="#7a5a3a" stroke-width="0.4" />
<rect x="497.5" y="152" width="1.9" height="38" fill="#ecd9b6" stroke="#7a5a3a" stroke-width="0.4" /><rect x="499.4" y="152" width="1.6" height="38" fill="#c9aa80" stroke="#7a5a3a" stroke-width="0.4" />
<rect x="515.4" y="150" width="1.4" height="42" fill="#ecd9b6" stroke="#7a5a3a" stroke-width="0.4" /><rect x="516.8" y="150" width="1.2" height="42" fill="#c9aa80" stroke="#7a5a3a" stroke-width="0.4" />
<rect x="532.6" y="160" width="1.9" height="36" fill="#ecd9b6" stroke="#7a5a3a" stroke-width="0.4" /><rect x="534.5" y="160" width="1.5" height="36" fill="#c9aa80" stroke="#7a5a3a" stroke-width="0.4" />
<rect x="507.7" y="150" width="6.4" height="42" fill="url(#sg)" stroke="#666" stroke-width="0.4" />
<polygon points="459.7,188.6 500,165.4 552.3,197.1 512,220.3" fill="#8d7d60" stroke="#7a5a3a" stroke-width="0.5" stroke-linejoin="round" />
<polygon points="459.7,188.6 500,165.4 502.6,167 462.3,190.2" fill="#ecd9b6" stroke="#7a5a3a" stroke-width="0.35" stroke-linejoin="round" />
<polygon points="473.8,197.2 514.1,174 516.7,175.5 476.4,198.7" fill="#ecd9b6" stroke="#7a5a3a" stroke-width="0.35" stroke-linejoin="round" />
<polygon points="487.4,205.4 527.7,182.2 530.3,183.8 490,207" fill="#ecd9b6" stroke="#7a5a3a" stroke-width="0.35" stroke-linejoin="round" />
<polygon points="501,213.6 541.3,190.4 543.9,192 503.6,215.2" fill="#ecd9b6" stroke="#7a5a3a" stroke-width="0.35" stroke-linejoin="round" />
<polygon points="509.4,218.7 549.7,195.5 552.3,197.1 512,220.3" fill="#ecd9b6" stroke="#7a5a3a" stroke-width="0.35" stroke-linejoin="round" />
<polygon points="459.7,188.6 462.9,186.7 515.2,218.4 512,220.3" fill="#dcc49c" stroke="#7a5a3a" stroke-width="0.35" stroke-linejoin="round" />
<polygon points="459.7,188.6 512,220.3 512,223.3 459.7,191.6" fill="#c9aa80" stroke="#7a5a3a" stroke-width="0.4" stroke-linejoin="round" />
<polygon points="512,220.3 552.3,197.1 552.3,200.1 512,223.3" fill="#ecd9b6" stroke="#7a5a3a" stroke-width="0.4" stroke-linejoin="round" />
<ellipse cx="511" cy="200.3" rx="6.4" ry="2.6" fill="#d8dadd" stroke="#444" stroke-width="0.4" />
<rect x="505.6" y="192.5" width="10.8" height="7.6" fill="url(#sg)" stroke="#444" stroke-width="0.4" />
<ellipse cx="511" cy="192.5" rx="5.4" ry="2.1" fill="#2a2a2a" stroke="#111" stroke-width="0.4" />
<rect x="507.8" y="186" width="6.4" height="6" fill="url(#sg)" stroke="#555" stroke-width="0.4" />
<path d="M459.7,157.7 L462,156.8 L551.4,195.8 L551.6,198.4 Q520,197 498,183 L459.7,162.2 Z" fill="#ecd9b6" stroke="#7a5a3a" stroke-width="0.45" stroke-linejoin="round" />
<path d="M459.7,162.2 L498,183 L498,185.6 L463,167 L463,164 Z" fill="#c9aa80" stroke="#7a5a3a" stroke-width="0.35" stroke-linejoin="round" />
<path d="M472.5,168.5 l0,4 l2,1 l0,-4 Z M481,173 l0,3.6 l2,1 l0,-3.6 Z" fill="#c9aa80" stroke="#7a5a3a" stroke-width="0.3" stroke-linejoin="round" />
<rect x="485.4" y="146" width="1.9" height="26" fill="#ecd9b6" stroke="#7a5a3a" stroke-width="0.4" /><rect x="487.3" y="146" width="1.6" height="26" fill="#c9aa80" stroke="#7a5a3a" stroke-width="0.4" />
<rect x="524" y="168" width="1.9" height="28" fill="#ecd9b6" stroke="#7a5a3a" stroke-width="0.4" /><rect x="525.9" y="168" width="1.5" height="28" fill="#c9aa80" stroke="#7a5a3a" stroke-width="0.4" />
<rect x="538.6" y="158" width="1.9" height="40" fill="#ecd9b6" stroke="#7a5a3a" stroke-width="0.4" /><rect x="540.5" y="158" width="1.5" height="40" fill="#c9aa80" stroke="#7a5a3a" stroke-width="0.4" />
<rect x="505" y="156" width="1.3" height="27" fill="#ecd9b6" stroke="#7a5a3a" stroke-width="0.4" /><rect x="506.3" y="156" width="1.1" height="27" fill="#c9aa80" stroke="#7a5a3a" stroke-width="0.4" />
<rect x="517.5" y="162" width="1.4" height="26" fill="#ecd9b6" stroke="#7a5a3a" stroke-width="0.4" /><rect x="518.9" y="162" width="1.1" height="26" fill="#c9aa80" stroke="#7a5a3a" stroke-width="0.4" />
<polygon points="485.4,143.1 502.5,132.8 541.1,155.1 524,165.4" fill="#ecd9b6" stroke="#7a5a3a" stroke-width="0.5" stroke-linejoin="round" />
<polygon points="503.8,147.1 518.7,142.2 525.5,151.7 509.3,156.9" fill="#6e5f49" stroke="#7a5a3a" stroke-width="0.35" stroke-linejoin="round" />
<polygon points="485.4,143.1 524,165.4 524,168 485.4,145.7" fill="#c9aa80" stroke="#7a5a3a" stroke-width="0.4" stroke-linejoin="round" />
<polygon points="524,165.4 541.1,155.1 541.1,157.7 524,168" fill="#dcc49c" stroke="#7a5a3a" stroke-width="0.4" stroke-linejoin="round" />
<ellipse cx="511.6" cy="151.5" rx="6.6" ry="2.6" fill="#c9ccd0" stroke="#444" stroke-width="0.4" />
<rect x="506.5" y="137" width="10.3" height="14.5" fill="url(#sg)" stroke="#555" stroke-width="0.4" />
<path d="M506.5,145 q5.1,2 10.3,0" fill="none" stroke="#555" stroke-width="0.4" stroke-linejoin="round" />
<path d="M503.5,132 L519.9,132 L518.9,138 Q511.7,141.2 504.5,138 Z" fill="#232323" stroke="#111" stroke-width="0.4" stroke-linejoin="round" />
<path d="M504.4,135.6 Q511.7,138.6 519,135.6" fill="none" stroke="#888" stroke-width="0.4" stroke-linejoin="round" />
<ellipse cx="511.7" cy="131.8" rx="8.2" ry="3.9" fill="#3a3a3a" stroke="#111" stroke-width="0.45" />
<ellipse cx="511.7" cy="130.8" rx="6.8" ry="3" fill="#c6c9cd" stroke="#333" stroke-width="0.35" />
<ellipse cx="510.5" cy="130" rx="3.2" ry="1.3" fill="#eef0f2" stroke="none" stroke-width="0.6" />
<polygon points="464.8,269.8 470,272.8 470,282.8 464.8,278.8" fill="#ecd9b6" stroke="#7a5a3a" stroke-width="0.4" stroke-linejoin="round" />
<polygon points="470,272.8 473,271.2 473,274.8 470,282.8" fill="#8a6b48" stroke="#7a5a3a" stroke-width="0.3" stroke-linejoin="round" />
<polygon points="472.9,274.4 478.1,277.4 478.1,287.4 472.9,283.4" fill="#ecd9b6" stroke="#7a5a3a" stroke-width="0.4" stroke-linejoin="round" />
<polygon points="478.1,277.4 481.1,275.8 481.1,279.4 478.1,287.4" fill="#8a6b48" stroke="#7a5a3a" stroke-width="0.3" stroke-linejoin="round" />
<polygon points="481.1,278.9 486.3,281.9 486.3,291.9 481.1,287.9" fill="#ecd9b6" stroke="#7a5a3a" stroke-width="0.4" stroke-linejoin="round" />
<polygon points="486.3,281.9 489.3,280.3 489.3,283.9 486.3,291.9" fill="#8a6b48" stroke="#7a5a3a" stroke-width="0.3" stroke-linejoin="round" />
<polygon points="489.2,283.5 494.4,286.5 494.4,296.5 489.2,292.5" fill="#ecd9b6" stroke="#7a5a3a" stroke-width="0.4" stroke-linejoin="round" />
<polygon points="494.4,286.5 497.4,284.9 497.4,288.5 494.4,296.5" fill="#8a6b48" stroke="#7a5a3a" stroke-width="0.3" stroke-linejoin="round" />
<polygon points="497.3,288 502.5,291 502.5,301 497.3,297" fill="#ecd9b6" stroke="#7a5a3a" stroke-width="0.4" stroke-linejoin="round" />
<polygon points="502.5,291 505.5,289.4 505.5,293 502.5,301" fill="#8a6b48" stroke="#7a5a3a" stroke-width="0.3" stroke-linejoin="round" />
<polygon points="466.6,266.6 488.9,255.4 532.6,277.7 509.4,290.6" fill="#c5b491" stroke="#7a5a3a" stroke-width="0.5" stroke-linejoin="round" />
<polygon points="466.6,266.6 470.6,264.6 513.6,288.3 509.4,290.6" fill="#dcc49c" stroke="#7a5a3a" stroke-width="0.35" stroke-linejoin="round" />
<polygon points="466.6,266.6 509.4,290.6 509.4,294.2 466.6,270.2" fill="#ecd9b6" stroke="#7a5a3a" stroke-width="0.4" stroke-linejoin="round" />
<polygon points="509.4,290.6 532.6,277.7 532.6,281.3 509.4,294.2" fill="#c9aa80" stroke="#7a5a3a" stroke-width="0.4" stroke-linejoin="round" />
<path d="M529.6,278.5 l3.8,-1 l0,12.4 l-2.2,1 l0,-9.6 l-1.6,0.4 Z" fill="#9a8060" stroke="#3a2a1a" stroke-width="0.5" stroke-linejoin="round" />
<ellipse cx="497.4" cy="268.6" rx="6.4" ry="2.8" fill="#6e6250" stroke="#7a5a3a" stroke-width="0.4" />
<ellipse cx="513.5" cy="278" rx="6" ry="2.7" fill="#b9a787" stroke="#7a5a3a" stroke-width="0.4" />
<ellipse cx="480" cy="264.5" rx="2.2" ry="1.1" fill="#9c8b6c" stroke="#7a5a3a" stroke-width="0.3" />
<ellipse cx="513.5" cy="278.6" rx="1.6" ry="0.8" fill="#5e5241" stroke="none" stroke-width="0.6" />
<path d="M493.8,263 L503.6,265.5 L503.4,269.6 Q498.4,271.8 493.6,268.6 Z" fill="url(#sg)" stroke="#555" stroke-width="0.4" stroke-linejoin="round" />
<rect x="518" y="292.5" width="1.9" height="91.5" fill="#ecd9b6" stroke="#7a5a3a" stroke-width="0.4" /><rect x="519.9" y="292.5" width="1.5" height="91.5" fill="#c9aa80" stroke="#7a5a3a" stroke-width="0.4" />
<rect x="525.7" y="290.5" width="2.4" height="93.5" fill="#ecd9b6" stroke="#7a5a3a" stroke-width="0.4" /><rect x="528.1" y="290.5" width="1.9" height="93.5" fill="#c9aa80" stroke="#7a5a3a" stroke-width="0.4" />
<polygon points="520.6,381 532.6,381 532.6,385.6 520.6,385.6" fill="#ecd9b6" stroke="#7a5a3a" stroke-width="0.4" stroke-linejoin="round" />
<rect x="508.6" y="298" width="1.9" height="36" fill="#ecd9b6" stroke="#7a5a3a" stroke-width="0.4" /><rect x="510.5" y="298" width="1.5" height="36" fill="#c9aa80" stroke="#7a5a3a" stroke-width="0.4" />
<rect x="504" y="298" width="1.3" height="32" fill="#ecd9b6" stroke="#7a5a3a" stroke-width="0.4" /><rect x="505.3" y="298" width="1.1" height="32" fill="#c9aa80" stroke="#7a5a3a" stroke-width="0.4" />
<rect x="493.1" y="294.5" width="10.3" height="39" fill="url(#sg)" stroke="#555" stroke-width="0.45" />
<line x1="493.1" y1="309" x2="503.4" y2="309" stroke="#555" stroke-width="0.4" />
<line x1="493.1" y1="310.4" x2="503.4" y2="310.4" stroke="#555" stroke-width="0.4" />
<rect x="489.6" y="291" width="1.6" height="31" fill="#ecd9b6" stroke="#7a5a3a" stroke-width="0.4" /><rect x="491.2" y="291" width="1.4" height="31" fill="#c9aa80" stroke="#7a5a3a" stroke-width="0.4" />
<polygon points="482,332.9 494.9,326.9 512.9,334.6 500.9,341.4" fill="#ecd9b6" stroke="#7a5a3a" stroke-width="0.45" stroke-linejoin="round" />
<polygon points="488,333 495.5,329.6 506.5,334.3 499.5,338" fill="#dcc49c" stroke="#7a5a3a" stroke-width="0.35" stroke-linejoin="round" />
<rect x="493.3" y="330" width="10" height="4.6" fill="#3c3c3c" stroke="#222" stroke-width="0.4" />
<ellipse cx="498.3" cy="334.6" rx="5" ry="1.9" fill="#3c3c3c" stroke="#222" stroke-width="0.3" />
<polygon points="482,332.9 500.9,341.4 501.7,362 477.7,351.7" fill="#dcc49c" stroke="#7a5a3a" stroke-width="0.45" stroke-linejoin="round" />
<polygon points="500.9,341.4 512.9,334.6 518,355.5 501.7,362" fill="#c9aa80" stroke="#7a5a3a" stroke-width="0.45" stroke-linejoin="round" />
<polyline points="480.6,339.1 501.2,348.2 514.6,341.5" fill="none" stroke="#7a5a3a" stroke-width="0.35" stroke-linejoin="round" stroke-linecap="round" />
<polyline points="479.2,345.3 501.4,355 516.3,348.4" fill="none" stroke="#7a5a3a" stroke-width="0.35" stroke-linejoin="round" stroke-linecap="round" />
<polygon points="477.7,351.7 501.7,362 503.4,389.4 477.7,374" fill="#dcc49c" stroke="#7a5a3a" stroke-width="0.45" stroke-linejoin="round" />
<polygon points="501.7,362 518,355.5 518,379.1 503.4,389.4" fill="#c9aa80" stroke="#7a5a3a" stroke-width="0.45" stroke-linejoin="round" />
<polygon points="479.4,353.6 502.2,364.2 502.6,386 479.4,371.8" fill="#6f4430" stroke="#7a5a3a" stroke-width="0.4" stroke-linejoin="round" />
<polygon points="479.4,362 490,360 502.4,375 502.6,386 479.4,371.8" fill="#9c6446" stroke="none" stroke-width="0" stroke-linejoin="round" />
<polygon points="479.4,353.6 484,355.8 484,361 479.4,362" fill="#4f2f22" stroke="none" stroke-width="0" stroke-linejoin="round" />
<line x1="502" y1="367.5" x2="518" y2="360.2" stroke="#7a5a3a" stroke-width="0.3" />
<line x1="502.4" y1="373" x2="518" y2="364.9" stroke="#7a5a3a" stroke-width="0.3" />
<line x1="502.7" y1="378.4" x2="518" y2="369.7" stroke="#7a5a3a" stroke-width="0.3" />
<line x1="503.1" y1="383.9" x2="518" y2="374.4" stroke="#7a5a3a" stroke-width="0.3" />
<line x1="580.4" y1="127.6" x2="519.1" y2="133.9" stroke="#cc5540" stroke-width="0.8" />
<line x1="580.4" y1="137.6" x2="517.6" y2="146.4" stroke="#cc5540" stroke-width="0.8" />
<line x1="580.4" y1="146.4" x2="523.9" y2="152.7" stroke="#cc5540" stroke-width="0.8" />
<line x1="580.4" y1="155.2" x2="512.9" y2="162.1" stroke="#cc5540" stroke-width="0.8" />
<line x1="580.4" y1="188.2" x2="517.6" y2="196.1" stroke="#cc5540" stroke-width="0.8" />
<line x1="580.4" y1="200.5" x2="514.4" y2="200.5" stroke="#cc5540" stroke-width="0.8" />
<line x1="580.4" y1="230.7" x2="516" y2="237.6" stroke="#cc5540" stroke-width="0.8" />
<line x1="580.4" y1="253.8" x2="506" y2="262" stroke="#cc5540" stroke-width="0.8" />
<line x1="580.4" y1="268.2" x2="516" y2="271" stroke="#cc5540" stroke-width="0.8" />
<line x1="580.4" y1="300.9" x2="506" y2="308" stroke="#cc5540" stroke-width="0.8" />
<line x1="580.4" y1="316.6" x2="503" y2="321" stroke="#cc5540" stroke-width="0.8" />
<line x1="580.4" y1="328.6" x2="506" y2="332" stroke="#cc5540" stroke-width="0.8" />
<text x="583.6" y="128.9" font-size="7.6" font-weight="bold" fill="#2b2422" text-anchor="start" textLength="31" lengthAdjust="spacingAndGlyphs">Chimney Cap</text>
<text x="583.6" y="139.1" font-size="7.6" font-weight="bold" fill="#2b2422" text-anchor="start" textLength="29.5" lengthAdjust="spacingAndGlyphs">Storm Collar</text>
<text x="583.6" y="147.9" font-size="7.6" font-weight="bold" fill="#2b2422" text-anchor="start" textLength="39" lengthAdjust="spacingAndGlyphs">Chase Top Collar</text>
<text x="583.6" y="156.9" font-size="7.6" font-weight="bold" fill="#2b2422" text-anchor="start" textLength="51.5" lengthAdjust="spacingAndGlyphs">Roof Radiation Shield</text>
<text x="583.6" y="189.9" font-size="7.6" font-weight="bold" fill="#2b2422" text-anchor="start" textLength="53" lengthAdjust="spacingAndGlyphs">Attic Insulation Shield</text>
<text x="583.6" y="202.5" font-size="7.6" font-weight="bold" fill="#2b2422" text-anchor="start" textLength="19" lengthAdjust="spacingAndGlyphs">Firestop</text>
<text x="583.6" y="232.5" font-size="7.6" font-weight="bold" fill="#2b2422" text-anchor="start" textLength="28" lengthAdjust="spacingAndGlyphs">Elbow Strap</text>
<text x="583.6" y="255.6" font-size="7.6" font-weight="bold" fill="#2b2422" text-anchor="start" textLength="14" lengthAdjust="spacingAndGlyphs">Elbow</text>
<text x="583.6" y="270.1" font-size="7.6" font-weight="bold" fill="#2b2422" text-anchor="start" textLength="19" lengthAdjust="spacingAndGlyphs">Firestop</text>
<text x="583.6" y="302.7" font-size="7.6" font-weight="bold" fill="#2b2422" text-anchor="start" textLength="24" lengthAdjust="spacingAndGlyphs">Wall Strap</text>
<text x="583.6" y="318.5" font-size="7.6" font-weight="bold" fill="#2b2422" text-anchor="start" textLength="33" lengthAdjust="spacingAndGlyphs">Chimney Pipe</text>
<text x="583.6" y="330.5" font-size="7.6" font-weight="bold" fill="#2b2422" text-anchor="start" textLength="34" lengthAdjust="spacingAndGlyphs">Anchor Plate /</text>
<text x="583.6" y="339" font-size="7.6" font-weight="bold" fill="#2b2422" text-anchor="start" textLength="63" lengthAdjust="spacingAndGlyphs">Anchor Plate with Damper</text></g>
<g id="c4"><polygon points="83.7,502 86.5,502.6 60.8,538.3 58,537.7" fill="#dcc096" stroke="#6e4d2e" stroke-width="0.45" stroke-linejoin="round" /><polygon points="86.5,502.6 87.5,503.6 61.8,539.3 60.8,538.3" fill="#c39e6c" stroke="#6e4d2e" stroke-width="0.35" stroke-linejoin="round" />
<polygon points="112.2,504.4 115,505 102.3,520.6 99.5,520" fill="#dcc096" stroke="#6e4d2e" stroke-width="0.45" stroke-linejoin="round" /><polygon points="115,505 116,506 103.3,521.6 102.3,520.6" fill="#c39e6c" stroke="#6e4d2e" stroke-width="0.35" stroke-linejoin="round" />
<polygon points="23.7,558.2 88,538.5 142,547.3 83.7,574.7" fill="#9a7750" stroke="#6e4d2e" stroke-width="0.5" stroke-linejoin="round" />
<polygon points="24.3,558.4 88.5,538.6 93,539.3 29.2,559.7" fill="#dcc096" stroke="#6e4d2e" stroke-width="0.4" stroke-linejoin="round" />
<polygon points="29.2,559.7 93,539.3 94.5,539.6 30.9,560.2" fill="#c39e6c" stroke="none" stroke-width="0" stroke-linejoin="round" />
<polygon points="34.3,561.1 97.5,540.1 102,540.8 39.2,562.5" fill="#dcc096" stroke="#6e4d2e" stroke-width="0.4" stroke-linejoin="round" />
<polygon points="39.2,562.5 102,540.8 103.5,541 40.9,562.9" fill="#c39e6c" stroke="none" stroke-width="0" stroke-linejoin="round" />
<polygon points="44.3,563.9 106.5,541.5 111,542.2 49.2,565.2" fill="#dcc096" stroke="#6e4d2e" stroke-width="0.4" stroke-linejoin="round" />
<polygon points="49.2,565.2 111,542.2 112.5,542.5 50.9,565.7" fill="#c39e6c" stroke="none" stroke-width="0" stroke-linejoin="round" />
<polygon points="54.3,566.6 115.5,543 120,543.7 59.2,568" fill="#dcc096" stroke="#6e4d2e" stroke-width="0.4" stroke-linejoin="round" />
<polygon points="59.2,568 120,543.7 121.5,544 60.9,568.4" fill="#c39e6c" stroke="none" stroke-width="0" stroke-linejoin="round" />
<polygon points="64.3,569.4 124.5,544.5 128.9,545.2 69.2,570.7" fill="#dcc096" stroke="#6e4d2e" stroke-width="0.4" stroke-linejoin="round" />
<polygon points="69.2,570.7 128.9,545.2 130.5,545.4 70.9,571.2" fill="#c39e6c" stroke="none" stroke-width="0" stroke-linejoin="round" />
<polygon points="74.3,572.1 133.5,545.9 137.9,546.6 79.2,573.5" fill="#dcc096" stroke="#6e4d2e" stroke-width="0.4" stroke-linejoin="round" />
<polygon points="79.2,573.5 137.9,546.6 139.5,546.9 80.9,573.9" fill="#c39e6c" stroke="none" stroke-width="0" stroke-linejoin="round" />
<polygon points="23.7,558.2 83.7,574.7 83.7,578.3 23.7,561.8" fill="#cfae7d" stroke="#6e4d2e" stroke-width="0.4" stroke-linejoin="round" />
<polygon points="23.7,561.8 83.7,578.3 83.7,580.9 23.7,564.8" fill="#c39e6c" stroke="#6e4d2e" stroke-width="0.4" stroke-linejoin="round" />
<polygon points="83.7,574.7 142,547.3 142,549.9 83.7,580.9" fill="#cfae7d" stroke="#6e4d2e" stroke-width="0.45" stroke-linejoin="round" />
<polygon points="120,549.5 132,544 134,545 122,550.8" fill="#dcc096" stroke="#6e4d2e" stroke-width="0.4" stroke-linejoin="round" />
<polygon points="128,553 140,547.5 142,548.6 130,554.2" fill="#dcc096" stroke="#6e4d2e" stroke-width="0.4" stroke-linejoin="round" />
<polygon points="82,551.5 94,546 106,551 94,556.6" fill="#d9dcdf" stroke="#555" stroke-width="0.4" stroke-linejoin="round" />
<ellipse cx="94.5" cy="551.8" rx="7.4" ry="2.6" fill="#a4a8ad" stroke="#444" stroke-width="0.4" />
<rect x="87.3" y="543" width="14.4" height="9" fill="url(#sg)" stroke="#444" stroke-width="0.4" />
<ellipse cx="94.5" cy="543" rx="7.2" ry="2.4" fill="#c9ccd0" stroke="#444" stroke-width="0.4" />
<rect x="89.5" y="488" width="9.8" height="56" fill="url(#sg)" stroke="#555" stroke-width="0.45" />
<line x1="89.5" y1="498" x2="99.3" y2="498" stroke="#555" stroke-width="0.4" />
<line x1="89.5" y1="499.3" x2="99.3" y2="499.3" stroke="#555" stroke-width="0.4" />
<line x1="89.5" y1="509" x2="99.3" y2="509" stroke="#555" stroke-width="0.4" />
<line x1="89.5" y1="527" x2="99.3" y2="527" stroke="#555" stroke-width="0.4" />
<line x1="89.5" y1="528.3" x2="99.3" y2="528.3" stroke="#555" stroke-width="0.4" />
<polygon points="76,522.5 89,510 99.6,510 110.4,514 100.8,519.4 99.4,523.4 89,523.8" fill="#c9ccd0" stroke="#555" stroke-width="0.45" stroke-linejoin="round" />
<polygon points="76,522.5 89,510.5 89,523.8" fill="#8e9297" stroke="#555" stroke-width="0.35" stroke-linejoin="round" />
<path d="M88.2,518.5 L90.2,508.5 L98.8,508.5 L101,518 Q94.5,522 88.2,518.5 Z" fill="url(#sg)" stroke="#555" stroke-width="0.4" stroke-linejoin="round" />
<path d="M88.8,509.5 q5.7,2.4 11.4,0 l0.6,2 q-6.3,2.6 -12.6,0 Z" fill="#b9bcc0" stroke="#555" stroke-width="0.35" stroke-linejoin="round" />
<path d="M99.3,497.5 L116.5,499.3" fill="none" stroke="#333" stroke-width="0.9" stroke-linejoin="round" />
<path d="M99.5,506 L104,498.5" fill="none" stroke="#333" stroke-width="0.6" stroke-linejoin="round" />
<rect x="115" y="497.8" width="3.2" height="3.2" fill="#222" stroke="none" stroke-width="0.6" />
<rect x="87.1" y="483.6" width="13.7" height="5.6" fill="#55585e" stroke="#111" stroke-width="0.4" />
<path d="M87.1,485.5 h13.7 M87.1,487.3 h13.7" fill="none" stroke="#888" stroke-width="0.3" stroke-linejoin="round" />
<ellipse cx="94" cy="483.4" rx="6.8" ry="2.3" fill="#6b6f75" stroke="#111" stroke-width="0.4" />
<ellipse cx="94" cy="482.6" rx="5.6" ry="1.9" fill="#c9ccd0" stroke="#333" stroke-width="0.35" />
<polygon points="79.3,523.6 82.1,524.2 69.2,543.5 66.4,542.9" fill="#dcc096" stroke="#6e4d2e" stroke-width="0.45" stroke-linejoin="round" /><polygon points="82.1,524.2 83.1,525.2 70.2,544.5 69.2,543.5" fill="#c39e6c" stroke="#6e4d2e" stroke-width="0.35" stroke-linejoin="round" />
<polygon points="126.3,505.5 129.1,506.1 108.6,532.6 105.8,532" fill="#dcc096" stroke="#6e4d2e" stroke-width="0.45" stroke-linejoin="round" /><polygon points="129.1,506.1 130.1,507.1 109.6,533.6 108.6,532.6" fill="#c39e6c" stroke="#6e4d2e" stroke-width="0.35" stroke-linejoin="round" />
<rect x="83.1" y="577" width="19.8" height="52.4" fill="#fcfcfc" stroke="#e4e4e4" stroke-width="0.3" />
<path d="M86.2,578 L86.2,600 Q87,622 94,622 Q101.5,622 102.3,600 L102.3,578 Z" fill="#e9e9e9" stroke="#666" stroke-width="0.4" stroke-linejoin="round" />
<path d="M88.5,578 L88.5,600 Q89.5,618 94.3,618 Q99.6,618 100.4,600 L100.4,578 Z" fill="url(#sg)" stroke="#666" stroke-width="0.4" stroke-linejoin="round" />
<rect x="88" y="588.6" width="13" height="2.6" fill="#3a3a3a" stroke="#111" stroke-width="0.3" />
<rect x="99.5" y="586.5" width="3.6" height="7" fill="#d0b07c" stroke="#6e4d2e" stroke-width="0.3" />
<line x1="94.3" y1="578" x2="94.3" y2="617" stroke="#555" stroke-width="0.4" />
<path d="M23.1,615 Q40,606 51.4,604.3 L83.1,605.3 L83.1,629 L102.9,629 L102.9,611.4 L127,613.3 Q131.6,612.8 130.9,616 Q129,622.4 125.4,625.7 L78.2,641.8 L23.1,626.8 Z" fill="#cfc3a6" stroke="#6e4d2e" stroke-width="0.5" stroke-linejoin="round" />
<polygon points="23.1,626.8 78.2,641.8 78.2,643.8 23.1,629.4" fill="#e6d0a6" stroke="#6e4d2e" stroke-width="0.35" stroke-linejoin="round" />
<polygon points="23.1,629.4 78.2,643.8 78.2,645.8 23.1,632.6" fill="#c7a574" stroke="#6e4d2e" stroke-width="0.35" stroke-linejoin="round" />
<path d="M78.2,641.8 L125.4,625.7 Q128.5,623 130.4,618 L130.4,622 Q128.5,626.6 125.4,629.4 L78.2,645.8 Z" fill="#d2b27f" stroke="#6e4d2e" stroke-width="0.4" stroke-linejoin="round" />
<path d="M103.5,611 l5.5,-1.5 l1.8,0.8 M111,612 l4.6,-1.3 l1.8,0.8 M126,613 l3.4,-2.2 l1.6,1.4" fill="none" stroke="#6e4d2e" stroke-width="0.5" stroke-linejoin="round" />
<rect x="91.6" y="638.2" width="10.4" height="3.6" fill="#7a6a58" stroke="#3a3029" stroke-width="0.4" />
<rect x="91.2" y="642" width="5.4" height="34" fill="#6c7078" stroke="#3c3f45" stroke-width="0.4" />
<line x1="92.6" y1="642" x2="92.6" y2="676" stroke="#9da1a8" stroke-width="0.6" />
<line x1="91.2" y1="657.5" x2="96.6" y2="657.5" stroke="#333" stroke-width="0.4" />
<polygon points="74.1,695.7 76,701.8 77.9,701.8 78.3,697.6" fill="#3b5a8f" stroke="#24365a" stroke-width="0.4" stroke-linejoin="round" /><polygon points="93.7,699.4 94.6,704.1 96.5,704.1 96.9,699.4" fill="#3b5a8f" stroke="#24365a" stroke-width="0.4" stroke-linejoin="round" /><polygon points="106.7,693.9 107.6,699 109.3,699 109.5,693.9" fill="#3b5a8f" stroke="#24365a" stroke-width="0.4" stroke-linejoin="round" /><polygon points="73.2,679 97.1,682.7 97.1,700.8 73.2,696.6" fill="#5a80bb" stroke="#24365a" stroke-width="0.4" stroke-linejoin="round" /><polygon points="97.1,682.7 109.8,678 109.8,695.3 97.1,700.8" fill="#4468a4" stroke="#24365a" stroke-width="0.4" stroke-linejoin="round" /><polygon points="72.3,677.9 90.9,673.4 110.8,676.7 97.1,681.8" fill="#86a6d6" stroke="#24365a" stroke-width="0.4" stroke-linejoin="round" /><polygon points="72.3,677.9 97.1,681.8 97.1,683.3 72.3,679.4" fill="#40639b" stroke="#24365a" stroke-width="0.4" stroke-linejoin="round" /><polygon points="97.1,681.8 110.8,676.7 110.8,678.2 97.1,683.3" fill="#33507f" stroke="#24365a" stroke-width="0.4" stroke-linejoin="round" /><path d="M76,686.4 q9.3,-5.6 18.1,2.4 l0,8.7 l-18.1,-3.2 Z" fill="#2a2018" stroke="#1c2b4a" stroke-width="0.4" stroke-linejoin="round" /><path d="M77.3,687.4 q8,-4.7 15.6,2.2 l0,6.3 l-15.6,-2.7 Z" fill="#e89a2e" stroke="none" stroke-width="0" stroke-linejoin="round" /><polygon points="77.9,689.2 80.6,685.5 82,691.1 84.4,685 85.8,692 88.1,686 89,692.9 91.3,687.8 92.3,695.2 77.9,692.6" fill="#b8431c" stroke="none" stroke-width="0" stroke-linejoin="round" /><polygon points="79.7,691.5 81.6,688.3 83,692 85.3,687.8 86.7,692.9 89,689.2 90.4,694.3 79.7,692.9" fill="#f2c230" stroke="none" stroke-width="0" stroke-linejoin="round" /><polygon points="77.3,692 92.9,694.8 92.9,696.2 77.3,693.5" fill="#3a2414" stroke="none" stroke-width="0" stroke-linejoin="round" />
<line x1="164.3" y1="479.4" x2="101.9" y2="486.3" stroke="#c4604c" stroke-width="0.6" />
<line x1="164.3" y1="490.7" x2="118" y2="498.8" stroke="#c4604c" stroke-width="0.6" />
<line x1="164.3" y1="502.7" x2="100.8" y2="508.9" stroke="#c4604c" stroke-width="0.6" />
<line x1="164.3" y1="512.3" x2="109.4" y2="516.4" stroke="#c4604c" stroke-width="0.6" />
<line x1="164.3" y1="545.6" x2="102.6" y2="550.7" stroke="#c4604c" stroke-width="0.6" />
<line x1="164.3" y1="556.9" x2="100.8" y2="564.4" stroke="#c4604c" stroke-width="0.6" />
<line x1="164.3" y1="583" x2="102.6" y2="589.9" stroke="#c4604c" stroke-width="0.6" />
<line x1="164.3" y1="596.7" x2="99.8" y2="603.6" stroke="#c4604c" stroke-width="0.6" />
<line x1="164.3" y1="624.9" x2="99.8" y2="638.6" stroke="#c4604c" stroke-width="0.6" />
<line x1="164.3" y1="640.3" x2="97.4" y2="643.7" stroke="#c4604c" stroke-width="0.6" />
<line x1="164.3" y1="657.4" x2="96.4" y2="658.4" stroke="#c4604c" stroke-width="0.6" />
<line x1="164.3" y1="672.9" x2="97.4" y2="677" stroke="#c4604c" stroke-width="0.6" />
<text x="167" y="481.1" font-size="7" font-weight="bold" fill="#2b2422" text-anchor="start" textLength="29.8" lengthAdjust="spacingAndGlyphs">Chimney Cap</text>
<text x="167" y="493.2" font-size="7" font-weight="bold" fill="#2b2422" text-anchor="start" textLength="51.4" lengthAdjust="spacingAndGlyphs">Extended Roof Bracket</text>
<text x="167" y="505.2" font-size="7" font-weight="bold" fill="#2b2422" text-anchor="start" textLength="28" lengthAdjust="spacingAndGlyphs">Storm Collar</text>
<text x="167" y="514.8" font-size="7" font-weight="bold" fill="#2b2422" text-anchor="start" textLength="19.5" lengthAdjust="spacingAndGlyphs">Flashing</text>
<text x="167" y="548.1" font-size="7" font-weight="bold" fill="#2b2422" text-anchor="start" textLength="49.7" lengthAdjust="spacingAndGlyphs">Attic Insulation Shield</text>
<text x="167" y="559.4" font-size="7" font-weight="bold" fill="#2b2422" text-anchor="start" textLength="56.2" lengthAdjust="spacingAndGlyphs">Firestop Radiation Shield</text>
<text x="167" y="585.5" font-size="7" font-weight="bold" fill="#2b2422" text-anchor="start" textLength="48.7" lengthAdjust="spacingAndGlyphs">Adjustable Wall Strap</text>
<text x="167" y="599.2" font-size="7" font-weight="bold" fill="#2b2422" text-anchor="start" textLength="30.9" lengthAdjust="spacingAndGlyphs">Chimney Pipe</text>
<text x="167" y="627.4" font-size="7" font-weight="bold" fill="#2b2422" text-anchor="start" textLength="44.6" lengthAdjust="spacingAndGlyphs">Ceiling Support Box</text>
<text x="167" y="642.1" font-size="7" font-weight="bold" fill="#2b2422" text-anchor="start" textLength="30.9" lengthAdjust="spacingAndGlyphs">DVL/DuraBlack</text>
<text x="167" y="648.6" font-size="7" font-weight="bold" fill="#2b2422" text-anchor="start" textLength="39" lengthAdjust="spacingAndGlyphs">Chimney Adapter</text>
<text x="167" y="659.9" font-size="7" font-weight="bold" fill="#2b2422" text-anchor="start" textLength="49.7" lengthAdjust="spacingAndGlyphs">DVL or DuraBlack Pipe</text>
<text x="167" y="675.4" font-size="7" font-weight="bold" fill="#2b2422" text-anchor="start" textLength="41" lengthAdjust="spacingAndGlyphs">Appliance Adapter</text></g>
<g id="c5"><polygon points="354.9,504.3 357.7,504.9 334.1,533.2 331.3,532.6" fill="#dcc096" stroke="#6e4d2e" stroke-width="0.45" stroke-linejoin="round" /><polygon points="357.7,504.9 358.7,505.9 335.1,534.2 334.1,533.2" fill="#c39e6c" stroke="#6e4d2e" stroke-width="0.35" stroke-linejoin="round" />
<polygon points="379.6,505.2 382.4,505.8 374.6,517.6 371.8,517" fill="#dcc096" stroke="#6e4d2e" stroke-width="0.45" stroke-linejoin="round" /><polygon points="382.4,505.8 383.4,506.8 375.6,518.6 374.6,517.6" fill="#c39e6c" stroke="#6e4d2e" stroke-width="0.35" stroke-linejoin="round" />
<polygon points="282.6,573.4 361,556 408.3,565.6 354.9,586" fill="#9a7750" stroke="#6e4d2e" stroke-width="0.5" stroke-linejoin="round" />
<polygon points="283.3,573.5 361.5,556.1 365.3,556.9 289.2,574.6" fill="#dcc096" stroke="#6e4d2e" stroke-width="0.4" stroke-linejoin="round" />
<polygon points="289.2,574.6 365.3,556.9 366.7,557.2 291.3,574.9" fill="#c39e6c" stroke="none" stroke-width="0" stroke-linejoin="round" />
<polygon points="295.4,575.6 369.4,557.7 373.2,558.5 301.3,576.7" fill="#dcc096" stroke="#6e4d2e" stroke-width="0.4" stroke-linejoin="round" />
<polygon points="301.3,576.7 373.2,558.5 374.6,558.8 303.3,577" fill="#c39e6c" stroke="none" stroke-width="0" stroke-linejoin="round" />
<polygon points="307.4,577.7 377.2,559.3 381.1,560.1 313.3,578.8" fill="#dcc096" stroke="#6e4d2e" stroke-width="0.4" stroke-linejoin="round" />
<polygon points="313.3,578.8 381.1,560.1 382.4,560.4 315.4,579.1" fill="#c39e6c" stroke="none" stroke-width="0" stroke-linejoin="round" />
<polygon points="319.5,579.8 385.1,560.9 389,561.7 325.4,580.9" fill="#dcc096" stroke="#6e4d2e" stroke-width="0.4" stroke-linejoin="round" />
<polygon points="325.4,580.9 389,561.7 390.3,562 327.4,581.2" fill="#c39e6c" stroke="none" stroke-width="0" stroke-linejoin="round" />
<polygon points="331.5,581.9 393,562.5 396.9,563.3 337.4,583" fill="#dcc096" stroke="#6e4d2e" stroke-width="0.4" stroke-linejoin="round" />
<polygon points="337.4,583 396.9,563.3 398.2,563.6 339.5,583.3" fill="#c39e6c" stroke="none" stroke-width="0" stroke-linejoin="round" />
<polygon points="343.6,584 400.9,564.1 404.8,564.9 349.5,585.1" fill="#dcc096" stroke="#6e4d2e" stroke-width="0.4" stroke-linejoin="round" />
<polygon points="349.5,585.1 404.8,564.9 406.1,565.2 351.5,585.4" fill="#c39e6c" stroke="none" stroke-width="0" stroke-linejoin="round" />
<polygon points="282.6,573.4 354.9,586 354.9,589 282.6,576.4" fill="#cfae7d" stroke="#6e4d2e" stroke-width="0.4" stroke-linejoin="round" />
<polygon points="282.6,576.4 354.9,589 354.9,591.2 282.6,578.8" fill="#c39e6c" stroke="#6e4d2e" stroke-width="0.4" stroke-linejoin="round" />
<polygon points="354.9,586 408.3,565.6 408.3,568 354.9,591.2" fill="#cfae7d" stroke="#6e4d2e" stroke-width="0.45" stroke-linejoin="round" />
<polygon points="388,566.5 399,561.5 401,562.6 390,567.7" fill="#dcc096" stroke="#6e4d2e" stroke-width="0.4" stroke-linejoin="round" />
<polygon points="395,570 406,565 408,566.1 397,571.2" fill="#dcc096" stroke="#6e4d2e" stroke-width="0.4" stroke-linejoin="round" />
<polygon points="363.5,573.5 375,568.8 386.5,573.3 375,578.2" fill="#d9dcdf" stroke="#555" stroke-width="0.4" stroke-linejoin="round" />
<ellipse cx="374.8" cy="573.6" rx="6.2" ry="2.2" fill="#a4a8ad" stroke="#444" stroke-width="0.4" />
<rect x="369" y="565.6" width="11.6" height="8" fill="url(#sg)" stroke="#444" stroke-width="0.4" />
<ellipse cx="374.8" cy="565.6" rx="5.8" ry="2" fill="#c9ccd0" stroke="#444" stroke-width="0.4" />
<rect x="370" y="547" width="9.4" height="19" fill="url(#sg)" stroke="#555" stroke-width="0.45" />
<path d="M359,528 L368.4,528 L368.8,531 L379.4,546 L379.4,549.5 L370,549.5 L369.8,547 L359.4,533.5 Z" fill="url(#sg)" stroke="#555" stroke-width="0.45" stroke-linejoin="round" />
<path d="M359.4,533.5 l9.4,-2.6 M364.2,539.6 l9,-3.6 M369.9,547 l9.5,-1.4" fill="none" stroke="#555" stroke-width="0.4" stroke-linejoin="round" />
<rect x="359" y="489" width="9.4" height="40" fill="url(#sg)" stroke="#555" stroke-width="0.45" />
<line x1="359" y1="497.5" x2="368.4" y2="497.5" stroke="#555" stroke-width="0.4" />
<line x1="359" y1="498.8" x2="368.4" y2="498.8" stroke="#555" stroke-width="0.4" />
<line x1="359" y1="508" x2="368.4" y2="508" stroke="#555" stroke-width="0.4" />
<line x1="359" y1="520" x2="368.4" y2="520" stroke="#555" stroke-width="0.4" />
<line x1="359" y1="521.3" x2="368.4" y2="521.3" stroke="#555" stroke-width="0.4" />
<polygon points="348.5,514.5 359,505 368.4,505 377.5,508.4 369.5,513 368.3,516 359,516.4" fill="#c9ccd0" stroke="#555" stroke-width="0.45" stroke-linejoin="round" />
<polygon points="348.5,514.5 359,505.4 359,516.4" fill="#8e9297" stroke="#555" stroke-width="0.35" stroke-linejoin="round" />
<path d="M357.8,513.5 L359.6,505.5 L367.9,505.5 L369.8,513 Q363.7,516.5 357.8,513.5 Z" fill="url(#sg)" stroke="#555" stroke-width="0.4" stroke-linejoin="round" />
<path d="M358.4,506.3 q5.3,2.2 10.6,0 l0.5,1.8 q-5.8,2.4 -11.6,0 Z" fill="#b9bcc0" stroke="#555" stroke-width="0.35" stroke-linejoin="round" />
<path d="M368.4,496.3 L383.3,498" fill="none" stroke="#333" stroke-width="0.9" stroke-linejoin="round" />
<path d="M368.6,504 L372.5,497.3" fill="none" stroke="#333" stroke-width="0.6" stroke-linejoin="round" />
<rect x="381.8" y="496.5" width="3" height="3" fill="#222" stroke="none" stroke-width="0.6" />
<rect x="358.6" y="485.4" width="10.6" height="4.4" fill="#7d8086" stroke="#222" stroke-width="0.4" />
<path d="M358.6,487 h10.6 M358.6,488.4 h10.6" fill="none" stroke="#888" stroke-width="0.3" stroke-linejoin="round" />
<ellipse cx="363.9" cy="485.2" rx="5.3" ry="1.9" fill="#6b6f75" stroke="#111" stroke-width="0.4" />
<ellipse cx="363.9" cy="484.6" rx="4.4" ry="1.5" fill="#c9ccd0" stroke="#333" stroke-width="0.35" />
<polygon points="345.4,524.7 348.2,525.3 340.4,539.5 337.6,538.9" fill="#dcc096" stroke="#6e4d2e" stroke-width="0.45" stroke-linejoin="round" /><polygon points="348.2,525.3 349.2,526.3 341.4,540.5 340.4,539.5" fill="#c39e6c" stroke="#6e4d2e" stroke-width="0.35" stroke-linejoin="round" />
<polygon points="356.4,531 359.2,531.6 354.5,541 351.7,540.4" fill="#dcc096" stroke="#6e4d2e" stroke-width="0.45" stroke-linejoin="round" /><polygon points="359.2,531.6 360.2,532.6 355.5,542 354.5,541" fill="#c39e6c" stroke="#6e4d2e" stroke-width="0.35" stroke-linejoin="round" />
<polygon points="390.6,505.9 393.4,506.5 374.6,530.1 371.8,529.5" fill="#dcc096" stroke="#6e4d2e" stroke-width="0.45" stroke-linejoin="round" /><polygon points="393.4,506.5 394.4,507.5 375.6,531.1 374.6,530.1" fill="#c39e6c" stroke="#6e4d2e" stroke-width="0.35" stroke-linejoin="round" />
<rect x="366" y="588" width="18.3" height="44" fill="#fcfcfc" stroke="#e4e4e4" stroke-width="0.3" />
<path d="M369.4,589 L369.4,606 Q370.2,626 376,626 Q382,626 382.8,606 L382.8,589 Z" fill="#e9e9e9" stroke="#666" stroke-width="0.4" stroke-linejoin="round" />
<path d="M371.4,589 L371.4,606 Q372.2,622 376.2,622 Q380.4,622 381,606 L381,589 Z" fill="url(#sg)" stroke="#666" stroke-width="0.4" stroke-linejoin="round" />
<rect x="371" y="598.2" width="10.6" height="2.4" fill="#3a3a3a" stroke="#111" stroke-width="0.3" />
<rect x="380.5" y="596.5" width="3.2" height="6" fill="#d0b07c" stroke="#6e4d2e" stroke-width="0.3" />
<line x1="376.2" y1="589" x2="376.2" y2="621" stroke="#555" stroke-width="0.4" />
<path d="M283.1,630.3 Q310,617 326.4,614.6 L366,615.6 L366,632 L384.3,632 L384.3,620.6 L391.6,622.6 Q396.6,622.2 395.2,625.4 Q393.8,629.2 391.8,631.1 L350,645.7 L283.1,633.3 Z" fill="#cfc3a6" stroke="#6e4d2e" stroke-width="0.5" stroke-linejoin="round" />
<polygon points="283.1,633.3 350,645.7 350,647.4 283.1,634.6" fill="#e6d0a6" stroke="#6e4d2e" stroke-width="0.3" stroke-linejoin="round" />
<polygon points="283.1,634.6 350,647.4 350,649.4 283.1,636.2" fill="#c7a574" stroke="#6e4d2e" stroke-width="0.35" stroke-linejoin="round" />
<path d="M350,645.7 L391.8,631.1 Q394,629 395,626 L395,629.6 Q394,632.6 391.8,634.6 L350,649.4 Z" fill="#d2b27f" stroke="#6e4d2e" stroke-width="0.4" stroke-linejoin="round" />
<rect x="372" y="636.6" width="8.6" height="3.4" fill="#7a6a58" stroke="#3a3029" stroke-width="0.4" />
<rect x="373.1" y="640" width="4.9" height="34" fill="#6c7078" stroke="#3c3f45" stroke-width="0.4" />
<line x1="374.4" y1="640.5" x2="374.4" y2="673" stroke="#9da1a8" stroke-width="0.55" />
<line x1="373.1" y1="655.5" x2="378" y2="655.5" stroke="#333" stroke-width="0.4" />
<polygon points="358,690.5 359.7,695.9 361.3,695.9 361.8,692.2" fill="#3b5a8f" stroke="#24365a" stroke-width="0.4" stroke-linejoin="round" /><polygon points="375.5,693.8 376.3,698 377.9,698 378.4,693.8" fill="#3b5a8f" stroke="#24365a" stroke-width="0.4" stroke-linejoin="round" /><polygon points="387.1,688.9 387.9,693.4 389.4,693.4 389.6,688.9" fill="#3b5a8f" stroke="#24365a" stroke-width="0.4" stroke-linejoin="round" /><polygon points="357.2,675.6 378.5,678.9 378.5,695.1 357.2,691.4" fill="#5a80bb" stroke="#24365a" stroke-width="0.4" stroke-linejoin="round" /><polygon points="378.5,678.9 389.9,674.8 389.9,690.1 378.5,695.1" fill="#4468a4" stroke="#24365a" stroke-width="0.4" stroke-linejoin="round" /><polygon points="356.4,674.6 373,670.6 390.7,673.6 378.5,678.1" fill="#86a6d6" stroke="#24365a" stroke-width="0.4" stroke-linejoin="round" /><polygon points="356.4,674.6 378.5,678.1 378.5,679.4 356.4,675.9" fill="#40639b" stroke="#24365a" stroke-width="0.4" stroke-linejoin="round" /><polygon points="378.5,678.1 390.7,673.6 390.7,674.9 378.5,679.4" fill="#33507f" stroke="#24365a" stroke-width="0.4" stroke-linejoin="round" /><path d="M359.7,682.2 q8.3,-5 16.2,2.2 l0,7.8 l-16.2,-2.8 Z" fill="#2a2018" stroke="#1c2b4a" stroke-width="0.4" stroke-linejoin="round" /><path d="M360.9,683.1 q7.1,-4.1 13.9,2 l0,5.6 l-13.9,-2.4 Z" fill="#e89a2e" stroke="none" stroke-width="0" stroke-linejoin="round" /><polygon points="361.3,684.7 363.8,681.4 365.1,686.4 367.2,681 368.4,687.2 370.5,681.8 371.3,688 373.4,683.5 374.2,690 361.3,687.7" fill="#b8431c" stroke="none" stroke-width="0" stroke-linejoin="round" /><polygon points="363,686.8 364.7,683.9 365.9,687.2 368,683.5 369.2,688 371.3,684.7 372.6,689.3 363,688" fill="#f2c230" stroke="none" stroke-width="0" stroke-linejoin="round" /><polygon points="360.9,687.2 374.8,689.7 374.8,690.9 360.9,688.5" fill="#3a2414" stroke="none" stroke-width="0" stroke-linejoin="round" />
<line x1="421.5" y1="478.2" x2="370.6" y2="486.4" stroke="#c4604c" stroke-width="0.6" />
<line x1="421.5" y1="488.6" x2="384.7" y2="498" stroke="#c4604c" stroke-width="0.6" />
<line x1="421.5" y1="500.2" x2="372.1" y2="509" stroke="#c4604c" stroke-width="0.6" />
<line x1="421.5" y1="509.6" x2="376.9" y2="512.1" stroke="#c4604c" stroke-width="0.6" />
<line x1="421.5" y1="524.7" x2="370.6" y2="531" stroke="#c4604c" stroke-width="0.6" />
<line x1="421.5" y1="544.5" x2="378.4" y2="548.3" stroke="#c4604c" stroke-width="0.6" />
<line x1="421.5" y1="557.7" x2="380" y2="570.3" stroke="#c4604c" stroke-width="0.6" />
<line x1="421.5" y1="571.9" x2="378.4" y2="582.9" stroke="#c4604c" stroke-width="0.6" />
<line x1="421.5" y1="598.3" x2="381.6" y2="599.9" stroke="#c4604c" stroke-width="0.6" />
<line x1="421.5" y1="614.6" x2="386.3" y2="620.9" stroke="#c4604c" stroke-width="0.6" />
<line x1="421.5" y1="628.8" x2="381.6" y2="637.6" stroke="#c4604c" stroke-width="0.6" />
<line x1="421.5" y1="639.1" x2="378.4" y2="642.9" stroke="#c4604c" stroke-width="0.6" />
<line x1="421.5" y1="650.1" x2="377.5" y2="661.1" stroke="#c4604c" stroke-width="0.6" />
<line x1="421.5" y1="669.3" x2="378.4" y2="672.1" stroke="#c4604c" stroke-width="0.6" />
<text x="424.6" y="480.7" font-size="7" font-weight="bold" fill="#2b2422" text-anchor="start" textLength="29.2" lengthAdjust="spacingAndGlyphs">Chimney Cap</text>
<text x="424.6" y="489.6" font-size="7" font-weight="bold" fill="#2b2422" text-anchor="start" textLength="21.4" lengthAdjust="spacingAndGlyphs">Extended</text>
<text x="424.6" y="495.1" font-size="7" font-weight="bold" fill="#2b2422" text-anchor="start" textLength="28.6" lengthAdjust="spacingAndGlyphs">Roof Bracket</text>
<text x="424.6" y="502.7" font-size="7" font-weight="bold" fill="#2b2422" text-anchor="start" textLength="28.3" lengthAdjust="spacingAndGlyphs">Storm Collar</text>
<text x="424.6" y="512.1" font-size="7" font-weight="bold" fill="#2b2422" text-anchor="start" textLength="19.2" lengthAdjust="spacingAndGlyphs">Flashing</text>
<text x="424.6" y="527.5" font-size="7" font-weight="bold" fill="#2b2422" text-anchor="start" textLength="27.7" lengthAdjust="spacingAndGlyphs">Elbow Strap</text>
<text x="424.6" y="547" font-size="7" font-weight="bold" fill="#2b2422" text-anchor="start" textLength="14.1" lengthAdjust="spacingAndGlyphs">Elbow</text>
<text x="424.6" y="557.9" font-size="7" font-weight="bold" fill="#2b2422" text-anchor="start" textLength="9.7" lengthAdjust="spacingAndGlyphs">Attic</text>
<text x="424.6" y="563.5" font-size="7" font-weight="bold" fill="#2b2422" text-anchor="start" textLength="39" lengthAdjust="spacingAndGlyphs">Insulation Shield</text>
<text x="424.6" y="572.6" font-size="7" font-weight="bold" fill="#2b2422" text-anchor="start" textLength="18.3" lengthAdjust="spacingAndGlyphs">Firestop</text>
<text x="424.6" y="578.2" font-size="7" font-weight="bold" fill="#2b2422" text-anchor="start" textLength="38" lengthAdjust="spacingAndGlyphs">Radiation Shield</text>
<text x="424.6" y="588.7" font-size="7" font-weight="bold" fill="#2b2422" text-anchor="start" textLength="32.4" lengthAdjust="spacingAndGlyphs">Chimney Pipe</text>
<text x="424.6" y="600.2" font-size="7" font-weight="bold" fill="#2b2422" text-anchor="start" textLength="23.9" lengthAdjust="spacingAndGlyphs">Wall Strap</text>
<text x="424.6" y="615.5" font-size="7" font-weight="bold" fill="#2b2422" text-anchor="start" textLength="16.7" lengthAdjust="spacingAndGlyphs">Second</text>
<text x="424.6" y="621.2" font-size="7" font-weight="bold" fill="#2b2422" text-anchor="start" textLength="26.7" lengthAdjust="spacingAndGlyphs">Floor Chase</text>
<text x="424.6" y="631.5" font-size="7" font-weight="bold" fill="#2b2422" text-anchor="start" textLength="36.1" lengthAdjust="spacingAndGlyphs">Ceiling Support</text>
<text x="424.6" y="641.6" font-size="7" font-weight="bold" fill="#2b2422" text-anchor="start" textLength="40.2" lengthAdjust="spacingAndGlyphs">Chimney Adapter</text>
<text x="424.6" y="651" font-size="7" font-weight="bold" fill="#2b2422" text-anchor="start" textLength="47.5" lengthAdjust="spacingAndGlyphs">DuraBlack Stovepipe</text>
<text x="424.6" y="656.8" font-size="7" font-weight="bold" fill="#2b2422" text-anchor="start" textLength="39" lengthAdjust="spacingAndGlyphs">or DVL Stovepipe</text>
<text x="424.6" y="671.6" font-size="7" font-weight="bold" fill="#2b2422" text-anchor="start" textLength="32.4" lengthAdjust="spacingAndGlyphs">Stove Adapter</text></g>
<g id="c6"><polygon points="643,558.7 653.9,538.4 653.9,628 643,632" fill="#b9bdc1" stroke="#8e9296" stroke-width="0.4" stroke-linejoin="round" />
<polygon points="641,652 651,650 651,704 641,709.4" fill="#5d6268" stroke="#44484d" stroke-width="0.4" stroke-linejoin="round" />
<polygon points="522.2,489.5 535,487.3 537,489.2 568.4,488.1 653.9,538.4 643,559.5" fill="url(#shg)" stroke="#5b6569" stroke-width="0.5" stroke-linejoin="round" />
<polygon points="520.9,491.8 522.2,489.5 643,559.5 643,566 634,564.4 520.9,498.4 522.5,496.4 520.9,494.6" fill="#c4702c" stroke="#8f4e1c" stroke-width="0.5" stroke-linejoin="round" />
<polygon points="531.7,560.4 552,548 556,546 557.5,548.5 570,545.5 579,537.8 633.5,565.6 633.5,569 531.7,561.8" fill="#70757a" stroke="#555a5f" stroke-width="0.4" stroke-linejoin="round" />
<polygon points="531.7,561.4 633.5,568.6 633.5,573.2 531.7,566.2 533,564.6 531.7,563.6" fill="#c4702c" stroke="#8f4e1c" stroke-width="0.4" stroke-linejoin="round" />
<polygon points="633.5,565.5 643,561 643,607.6 633.5,608.5" fill="#c4702c" stroke="#8f4e1c" stroke-width="0.4" stroke-linejoin="round" />
<polygon points="632,629.5 641,628.5 641,709.4 632,706.5" fill="#c4702c" stroke="#8f4e1c" stroke-width="0.4" stroke-linejoin="round" />
<line x1="634.4" y1="630" x2="634.4" y2="706.8" stroke="#8f4e1c" stroke-width="0.5" />
<polygon points="560,699 582,681 632,681 632,705" fill="url(#tile6)" stroke="#d9a565" stroke-width="0.4" stroke-linejoin="round" />
<polygon points="560,699 632,705 632,708.6 560,702.6" fill="#c4702c" stroke="#8f4e1c" stroke-width="0.4" stroke-linejoin="round" />
<polygon points="655,511 670,511 664.6,636 651.2,636" fill="url(#sg)" stroke="#666a6e" stroke-width="0.45" stroke-linejoin="round" />
<line x1="653.6" y1="588" x2="666.6" y2="588" stroke="#666" stroke-width="0.4" />
<line x1="652.4" y1="614" x2="665.4" y2="614" stroke="#555" stroke-width="0.5" />
<line x1="660.5" y1="513" x2="656.4" y2="634" stroke="#fff" stroke-width="0.9" opacity="0.55"/>
<ellipse cx="662.9" cy="511.8" rx="9.2" ry="2.6" fill="#8e9296" stroke="#555" stroke-width="0.4" />
<ellipse cx="662.9" cy="509.3" rx="12" ry="3.4" fill="#c2c5c8" stroke="#555" stroke-width="0.45" />
<path d="M654.8,504 L655.8,508.6 Q662.9,511 670.4,508.6 L671.8,504 Z" fill="#a9acb0" stroke="#666" stroke-width="0.35" stroke-linejoin="round" />
<ellipse cx="663.3" cy="504" rx="8.6" ry="2.9" fill="#d9dbdd" stroke="#555" stroke-width="0.4" />
<ellipse cx="663.3" cy="504.2" rx="6" ry="1.8" fill="#9a9da1" stroke="#666" stroke-width="0.3" />
<path d="M649.5,590.5 L653.6,586 Q660,589 666.4,586 M649.5,590.5 L653.5,580.5 L653.6,586" fill="none" stroke="#33363a" stroke-width="0.8" stroke-linejoin="round" />
<polygon points="643,629 650,624 668.8,626.8 668,637 646,652 643,652" fill="#b9bcc0" stroke="#4e5256" stroke-width="0.5" stroke-linejoin="round" />
<polygon points="646.5,632 664,629.5 663.4,636.2 647,647.6" fill="#dcdde0" stroke="#8e9296" stroke-width="0.3" stroke-linejoin="round" />
<rect x="630" y="611.8" width="19" height="11.6" fill="#8c9094" stroke="#4e5256" stroke-width="0.4" />
<path d="M636,611 v13 M638.2,611 v13" fill="none" stroke="#44484c" stroke-width="0.6" stroke-linejoin="round" />
<ellipse cx="648.6" cy="617.6" rx="2.6" ry="6.2" fill="#a9adb1" stroke="#4e5256" stroke-width="0.4" />
<path d="M648.6,605 L652.4,602 L651.6,634 L648.6,630.5 Z" fill="#d4d6d8" stroke="#666a6e" stroke-width="0.4" stroke-linejoin="round" />
<path d="M597,652.4 L597,621 Q597,610.4 607,610.4 L630.5,612 L630.5,620.6 L609,620 Q605,620 605,624 L605,652.4 Z" fill="#2b2b2e" stroke="#111" stroke-width="0.4" stroke-linejoin="round" />
<path d="M599.2,651 L599.2,621.5 Q599.6,613 607,612.6 L630,614" fill="none" stroke="#66676b" stroke-width="1" stroke-linejoin="round" />
<polygon points="587,686.5 590.5,684 616.5,684 620,686.5 620,691 587,691" fill="#1e353d" stroke="#14252a" stroke-width="0.4" stroke-linejoin="round" />
<polygon points="592,678.6 614,678.6 613.4,685 592.6,685" fill="#2c4952" stroke="#14252a" stroke-width="0.4" stroke-linejoin="round" />
<polygon points="581.6,656 620,655 620,679 581.6,679" fill="#2c4952" stroke="#14252a" stroke-width="0.45" stroke-linejoin="round" />
<polygon points="620,655 623.6,653 623.6,676 620,679" fill="#1e353d" stroke="#14252a" stroke-width="0.45" stroke-linejoin="round" />
<polygon points="581.6,656 585,652.6 623.6,653 620,655" fill="#3a5c66" stroke="#14252a" stroke-width="0.45" stroke-linejoin="round" />
<polygon points="589,652.4 616,651.6 616,653.6 589,654.4" fill="#17292f" stroke="#0f1b1f" stroke-width="0.3" stroke-linejoin="round" />
<ellipse cx="601" cy="667.2" rx="14.4" ry="7" fill="#12242a" stroke="#0b1519" stroke-width="0.4" />
<ellipse cx="601" cy="667.2" rx="12.6" ry="5.6" fill="#3a2412" stroke="#5c3c0a" stroke-width="0.3" />
<path d="M588.6,667.2 A12.4,5.5 0 0 1 603,661.8 Q600,667 603,672.6 A12.4,5.5 0 0 1 588.6,667.2 Z" fill="url(#gold)" stroke="none" stroke-width="0.6" stroke-linejoin="round" />
<ellipse cx="595" cy="665.2" rx="4" ry="1.7" fill="#fffbe0" stroke="none" stroke-width="0.6" />
<path d="M607,664 q3,-1 5,1.5" fill="none" stroke="#d8a83a" stroke-width="0.7" stroke-linejoin="round" />
<path d="M578.6,672.4 l5.4,-1.8" fill="none" stroke="#8a3a2a" stroke-width="1" stroke-linejoin="round" /></g>
<g id="c7"><polygon points="164.2,911.5 201.8,889.6 209,895.5 216.4,892.7 249.2,909 249.2,914.5 164.2,918.5" fill="#8f8f8f" stroke="none" stroke-width="0" stroke-linejoin="round" />
<polygon points="164.2,911.5 201.8,889.6 204,891.2 164.2,914" fill="#c8c8c8" stroke="none" stroke-width="0" stroke-linejoin="round" />
<rect x="155.7" y="908" width="8.5" height="63" fill="#959595" stroke="none" stroke-width="0.6" />
<polygon points="149.6,905.4 249.2,855.6 249.2,859.6 245,862 247,864.5 155.7,910.5" fill="#d6d6d6" stroke="#999" stroke-width="0.3" stroke-linejoin="round" />
<polygon points="105.9,907.9 229.8,848.4 236,851 240,848.3 249.2,850.8 249.2,855.6 149.6,905.4 127.8,915.1 126.6,932.1 121,936 118.1,934.6" fill="url(#shg7)" stroke="#1a1a1a" stroke-width="0.4" stroke-linejoin="round" />
<polygon points="105.9,908.3 118.1,934.6 124.5,938.8 126.6,932.1 121,936 118.1,934.6" fill="#c4c4c4" stroke="#777" stroke-width="0.3" stroke-linejoin="round" />
<polygon points="118.1,934.6 124.5,940.4 134,929 133,918 127.4,926.4" fill="#bdbdbd" stroke="#777" stroke-width="0.3" stroke-linejoin="round" />
<polygon points="118,909.2 132,902.4 133,918 127.4,926.4" fill="#9a9a9a" stroke="#444" stroke-width="0.3" stroke-linejoin="round" />
<polygon points="147.2,906.5 155.7,909 155.7,1050.2 147.2,1036.8" fill="#505050" stroke="#222" stroke-width="0.3" stroke-linejoin="round" />
<polygon points="155.7,994 217.6,984.6 240.7,1015 156.5,1050.7" fill="#141414" stroke="#1a1a1a" stroke-width="0.3" stroke-linejoin="round" />
<rect x="155.7" y="970" width="6.1" height="78" fill="#141414" stroke="none" stroke-width="0.6" />
<polygon points="162.5,996.2 215,988 235.3,1013.2 162.5,1043.5" fill="url(#tile7)" stroke="#333" stroke-width="0.3" stroke-linejoin="round" />
<rect x="133" y="862" width="11.6" height="114" fill="url(#gp)" stroke="#333" stroke-width="0.4" />
<line x1="133" y1="898" x2="144.6" y2="898" stroke="#333" stroke-width="0.45" />
<line x1="133" y1="899.4" x2="144.6" y2="899.4" stroke="#333" stroke-width="0.45" />
<line x1="133" y1="932" x2="144.6" y2="932" stroke="#333" stroke-width="0.45" />
<line x1="133" y1="962" x2="144.6" y2="962" stroke="#333" stroke-width="0.45" />
<line x1="133" y1="963.4" x2="144.6" y2="963.4" stroke="#333" stroke-width="0.45" />
<line x1="139.5" y1="862" x2="139.5" y2="975" stroke="#555" stroke-width="0.35" />
<path d="M126.8,855.5 L127.6,862.5 Q136.3,866 145,862.5 L145.8,855.5 Z" fill="#9a9a9a" stroke="#333" stroke-width="0.4" stroke-linejoin="round" />
<path d="M129,857 v5.5 M132,858 v5.6 M135,858.4 v5.8 M138,858.4 v5.8 M141,858 v5.6 M143.6,857 v5.5" fill="none" stroke="#444" stroke-width="0.5" stroke-linejoin="round" />
<ellipse cx="136.3" cy="855.3" rx="9.6" ry="3.2" fill="#c9c9c9" stroke="#333" stroke-width="0.45" />
<ellipse cx="136.3" cy="854.8" rx="7" ry="2.1" fill="#e4e4e4" stroke="#666" stroke-width="0.3" />
<path d="M132,888 L145.2,888 L147.6,907.6 Q138,913 127.6,910.3 Z" fill="#8a8a8a" stroke="#2a2a2a" stroke-width="0.45" stroke-linejoin="round" />
<path d="M131,887.2 q7.6,3 15.2,0 l-0.8,-2.4 q-6.8,2.4 -13.6,0 Z" fill="#c4c4c4" stroke="#333" stroke-width="0.4" stroke-linejoin="round" />
<line x1="139" y1="889" x2="139.8" y2="910" stroke="#555" stroke-width="0.4" />
<path d="M132.5,931 q6.3,3 12.6,0 l0,2.2 q-6.3,3 -12.6,0 Z" fill="#444" stroke="#111" stroke-width="0.3" stroke-linejoin="round" />
<path d="M145,932 l3.5,-3.5 l0.6,8 Z" fill="#ccc" stroke="#222" stroke-width="0.4" stroke-linejoin="round" />
<rect x="144.6" y="955.6" width="14.6" height="11.2" fill="url(#gp)" stroke="#222" stroke-width="0.4" />
<ellipse cx="159" cy="961.2" rx="2.6" ry="6.1" fill="#8c8c8c" stroke="#111" stroke-width="0.4" />
<line x1="150" y1="955.6" x2="150" y2="966.8" stroke="#333" stroke-width="0.5" />
<polygon points="131.2,969.4 133,969.4 133,976 144.6,976 144.6,969.4 149.6,972 149.6,990.8 131.2,980" fill="#c4c4c4" stroke="#222" stroke-width="0.4" stroke-linejoin="round" />
<polygon points="131.2,975 149.6,985.6 149.6,990.8 131.2,980" fill="#8e8e8e" stroke="#222" stroke-width="0.3" stroke-linejoin="round" />
<path d="M160.6,956 L178,953.2 Q192.8,951.5 192.8,964 L192.8,984 L185.2,984 L185.2,966 Q185.2,959.6 178.5,960.6 L160.6,963.4 Z" fill="#1c1c1c" stroke="#000" stroke-width="0.3" stroke-linejoin="round" />
<path d="M162,958 L178,955.3 Q189,954 190,962" fill="none" stroke="#6a6a6a" stroke-width="0.8" stroke-linejoin="round" />
<path d="M170.6,1012 l0.6,5.2 l1.6,0.6 l0.4,-4.5 M178.6,1024 l0.4,8 l1.8,0 l0.8,-7.4 M204.6,1013.5 l0.6,6.6 l1.6,-0.4 l0.2,-6.8" fill="#2a2a2a" stroke="#111" stroke-width="0.3" stroke-linejoin="round" />
<polygon points="169.1,986.3 180,998 179.5,1024.7 170.3,1012.6" fill="#2e2e2e" stroke="#0c0c0c" stroke-width="0.4" stroke-linejoin="round" />
<polygon points="180,998 209.1,990.7 206.7,1013.8 179.5,1024.7" fill="#3e3e3e" stroke="#0c0c0c" stroke-width="0.4" stroke-linejoin="round" />
<polygon points="169.1,986.3 197,980.5 209.1,990.7 180,998" fill="#4c4c4c" stroke="#0c0c0c" stroke-width="0.4" stroke-linejoin="round" />
<polygon points="183.5,1001 205.2,995.5 203.6,1011.2 183.2,1019.4" fill="#2a2a2a" stroke="#777" stroke-width="0.35" stroke-linejoin="round" />
<polygon points="186.1,1003.5 203,999.2 202,1009.6 186,1016" fill="#6e6e6e" stroke="#111" stroke-width="0.3" stroke-linejoin="round" />
<polygon points="190,1004.5 194,1003.5 194,1007.5 190,1008.5" fill="#f2f2f2" stroke="none" stroke-width="0.6" stroke-linejoin="round" />
<polygon points="195.5,1003 199,1002.2 199,1006 195.5,1007" fill="#e6e6e6" stroke="none" stroke-width="0.6" stroke-linejoin="round" />
<line x1="176.4" y1="826.8" x2="143.6" y2="857.1" stroke="#1a1a1a" stroke-width="0.6" />
<line x1="106.8" y1="853.6" x2="137.1" y2="884" stroke="#1a1a1a" stroke-width="0.6" />
<line x1="126.4" y1="876.8" x2="135.4" y2="891" stroke="#1a1a1a" stroke-width="0.6" />
<line x1="110.4" y1="894.6" x2="128.2" y2="903.6" stroke="#1a1a1a" stroke-width="0.6" />
<line x1="103.2" y1="930.4" x2="119.3" y2="919.6" stroke="#1a1a1a" stroke-width="0.6" />
<line x1="110.4" y1="948.2" x2="133.6" y2="934" stroke="#1a1a1a" stroke-width="0.6" />
<line x1="106.8" y1="967.9" x2="133.6" y2="963.6" stroke="#1a1a1a" stroke-width="0.6" />
<line x1="119.3" y1="994.6" x2="133.6" y2="982" stroke="#1a1a1a" stroke-width="0.6" />
<line x1="183.6" y1="930.4" x2="155" y2="955.4" stroke="#1a1a1a" stroke-width="0.6" />
<line x1="197.9" y1="948.2" x2="165.7" y2="957" stroke="#1a1a1a" stroke-width="0.6" />
<line x1="215.7" y1="975" x2="194.3" y2="964.3" stroke="#1a1a1a" stroke-width="0.6" />
<text stroke="#151515" stroke-width="0.22" x="194.3" y="818.8" font-size="9" font-weight="bold" fill="#151515" text-anchor="middle" textLength="26" lengthAdjust="spacingAndGlyphs">Deluxe</text>
<text stroke="#151515" stroke-width="0.22" x="177.5" y="826.9" font-size="9" font-weight="bold" fill="#151515" text-anchor="start" textLength="49.6" lengthAdjust="spacingAndGlyphs">Rain Cap (C)</text>
<text stroke="#151515" stroke-width="0.22" x="73.6" y="850.2" font-size="9" font-weight="bold" fill="#151515" text-anchor="start" textLength="34.3" lengthAdjust="spacingAndGlyphs">Chimney</text>
<text stroke="#151515" stroke-width="0.22" x="73.6" y="858.3" font-size="9" font-weight="bold" fill="#151515" text-anchor="start" textLength="34.3" lengthAdjust="spacingAndGlyphs">Sections</text>
<text stroke="#151515" stroke-width="0.22" x="57.5" y="878" font-size="9" font-weight="bold" fill="#151515" text-anchor="start" textLength="68.9" lengthAdjust="spacingAndGlyphs">Storm Collar (SC)</text>
<text stroke="#151515" stroke-width="0.22" x="68.2" y="891.9" font-size="9" font-weight="bold" fill="#151515" text-anchor="start" textLength="41.1" lengthAdjust="spacingAndGlyphs">Adjustable</text>
<text stroke="#151515" stroke-width="0.22" x="55.7" y="900.1" font-size="9" font-weight="bold" fill="#151515" text-anchor="start" textLength="53.6" lengthAdjust="spacingAndGlyphs">Roof Flashing</text>
<text stroke="#151515" stroke-width="0.22" x="55.7" y="908.3" font-size="9" font-weight="bold" fill="#151515" text-anchor="start" textLength="11.1" lengthAdjust="spacingAndGlyphs">(F)</text>
<text stroke="#151515" stroke-width="0.22" x="39.6" y="931.5" font-size="9" font-weight="bold" fill="#151515" text-anchor="start" textLength="61.8" lengthAdjust="spacingAndGlyphs">Soffit Plate (SP)</text>
<text stroke="#151515" stroke-width="0.22" x="46.8" y="950.1" font-size="9" font-weight="bold" fill="#151515" text-anchor="start" textLength="62.5" lengthAdjust="spacingAndGlyphs">Wall Band (WB)</text>
<text stroke="#151515" stroke-width="0.22" x="57.5" y="966.1" font-size="9" font-weight="bold" fill="#151515" text-anchor="start" textLength="35.7" lengthAdjust="spacingAndGlyphs">Stainless</text>
<text stroke="#151515" stroke-width="0.22" x="57.5" y="974.4" font-size="9" font-weight="bold" fill="#151515" text-anchor="start" textLength="48.5" lengthAdjust="spacingAndGlyphs">Steel Tee (T)</text>
<text stroke="#151515" stroke-width="0.22" x="47.1" y="990.5" font-size="9" font-weight="bold" fill="#151515" text-anchor="start" textLength="41.8" lengthAdjust="spacingAndGlyphs">Adjustable</text>
<text stroke="#151515" stroke-width="0.22" x="38.9" y="998.7" font-size="9" font-weight="bold" fill="#151515" text-anchor="start" textLength="80.4" lengthAdjust="spacingAndGlyphs">Wall Support (AWS)</text>
<text stroke="#151515" stroke-width="0.22" x="184.3" y="931.5" font-size="9" font-weight="bold" fill="#151515" text-anchor="start" textLength="78.6" lengthAdjust="spacingAndGlyphs">Wall Thimble (WTB)</text>
<text stroke="#151515" stroke-width="0.22" x="198.6" y="944.7" font-size="9" font-weight="bold" fill="#151515" text-anchor="start" textLength="35.7" lengthAdjust="spacingAndGlyphs">Stovepipe</text>
<text stroke="#151515" stroke-width="0.22" x="198.6" y="952.6" font-size="9" font-weight="bold" fill="#151515" text-anchor="start" textLength="55.7" lengthAdjust="spacingAndGlyphs">Adapter (SPA)</text>
<text stroke="#151515" stroke-width="0.22" x="216.4" y="974.4" font-size="9" font-weight="bold" fill="#151515" text-anchor="start" textLength="21.5" lengthAdjust="spacingAndGlyphs">Black</text>
<text stroke="#151515" stroke-width="0.22" x="216.4" y="983" font-size="9" font-weight="bold" fill="#151515" text-anchor="start" textLength="39.3" lengthAdjust="spacingAndGlyphs">Stovepipe</text></g>
<g id="c8"><polygon points="354,836 375.9,848.9 375.9,1068.9 353.2,1056" fill="url(#gbL)" stroke="#2e3d37" stroke-width="0.5" stroke-linejoin="round" />
<polygon points="375.9,848.9 399,834.7 399,1056 375.9,1068.9" fill="url(#gbR)" stroke="#2e3d37" stroke-width="0.5" stroke-linejoin="round" />
<polyline points="353.2,980 375.9,993 399,980" fill="none" stroke="#2e3d37" stroke-width="0.5" stroke-linejoin="round" stroke-linecap="round" />
<polygon points="354,836 375.9,825.7 399,834.7 375.9,848.9" fill="#7e968b" stroke="#2e3d37" stroke-width="0.5" stroke-linejoin="round" />
<polygon points="358.5,836 375.9,828 394.5,835 375.9,846.2" fill="#6b6f6d" stroke="#2e3d37" stroke-width="0.4" stroke-linejoin="round" />
<polygon points="364,836 375.9,830.6 388.5,835.3 375.9,842.8" fill="#3d4240" stroke="#2e3d37" stroke-width="0.4" stroke-linejoin="round" />
<path d="M366,859 Q372,856.5 375.9,860.5 Q381,856 386.5,859.5 Q389,872 386.8,886 Q390,900 386,915 Q389.5,930 386.5,945 Q389,960 386,972 L389,981 L376,989.5 L364,982.5 Q366.5,972 364.5,960 Q362,945 365.5,930 Q362.5,915 365.5,900 Q363,885 365.5,872 Z" fill="#f7f7f7" stroke="#40534b" stroke-width="0.5" stroke-linejoin="round" />
<path d="M375.9,860.5 L375.9,989" fill="none" stroke="#c5cfca" stroke-width="0.5" stroke-linejoin="round" />
<path d="M381.5,861 q3,10 0.5,22 q3.5,14 0.5,30 q3,16 0,30 q2.6,13 0.5,26" fill="none" stroke="#44574f" stroke-width="0.5" stroke-linejoin="round" />
<rect x="371.5" y="861.5" width="8.7" height="115" fill="url(#pg2)" stroke="#444" stroke-width="0.45" />
<line x1="371.5" y1="917" x2="380.2" y2="917" stroke="#333" stroke-width="0.5" />
<line x1="371.5" y1="918.4" x2="380.2" y2="918.4" stroke="#333" stroke-width="0.5" />
<line x1="371.5" y1="966" x2="380.2" y2="966" stroke="#333" stroke-width="0.5" />
<line x1="371.5" y1="967.4" x2="380.2" y2="967.4" stroke="#333" stroke-width="0.5" />
<path d="M371.5,861.5 q4.3,-2.2 8.7,0" fill="none" stroke="#333" stroke-width="0.5" stroke-linejoin="round" />
<path d="M371.5,975 L380.2,975 L381,978.5 L404,990.8 L402,998.5 L378,986.5 Q371.5,983 371.5,978 Z" fill="url(#pg2)" stroke="#333" stroke-width="0.45" stroke-linejoin="round" />
<path d="M380.8,978.6 l-2.4,7.6 M385,980.8 l-2.2,7.6 M388.5,982.6 l-2.2,7.6" fill="none" stroke="#222" stroke-width="0.7" stroke-linejoin="round" />
<ellipse cx="384.6" cy="984.6" rx="2.3" ry="4.2" fill="#555" stroke="#222" stroke-width="0.3" transform="rotate(-28 384.6 984.6)"/>
<path d="M398,988 Q412.4,989 412.4,1001 L412.4,1024 L403.6,1024 L403.6,1004 Q403.6,997.5 396,996.5 Z" fill="url(#pg2)" stroke="#333" stroke-width="0.45" stroke-linejoin="round" />
<path d="M403.8,1003 q4.3,2 8.6,0 M403.6,1008 q4.4,2 8.8,0 M400.2,989.5 l-2,7.6 M407.5,991.5 l-3.2,6.5" fill="none" stroke="#333" stroke-width="0.45" stroke-linejoin="round" />
<path d="M393.9,1062 l0.3,10.6 l2,0.6 l1,-9.4 M414.6,1076 l-0.6,6 l2,0.4 l1.6,-6.4 M446.9,1057 l-0.8,6 l1.6,0 l1,-7" fill="#eee" stroke="#3a3a3a" stroke-width="0.45" stroke-linejoin="round" />
<polygon points="393.9,1034.1 415.7,1044.4 415.7,1077.9 393.9,1063.7" fill="#ececec" stroke="#3a3a3a" stroke-width="0.5" stroke-linejoin="round" />
<polygon points="415.7,1044.4 447.9,1023.9 447.9,1058.6 415.7,1077.9" fill="#f4f4f4" stroke="#3a3a3a" stroke-width="0.5" stroke-linejoin="round" />
<polygon points="393.9,1032.9 426,1012.3 447.9,1022.6 415.7,1043.1" fill="#f6f6f6" stroke="#3a3a3a" stroke-width="0.5" stroke-linejoin="round" />
<polygon points="393.9,1032.9 415.7,1043.1 415.7,1045.3 393.9,1035.1" fill="#d4d4d4" stroke="#3a3a3a" stroke-width="0.4" stroke-linejoin="round" />
<polygon points="415.7,1043.1 447.9,1022.6 447.9,1024.8 415.7,1045.3" fill="#c4c4c4" stroke="#3a3a3a" stroke-width="0.4" stroke-linejoin="round" />
<polygon points="396.4,1039 413.2,1047 413.2,1071.5 396.4,1060.5" fill="none" stroke="#3a3a3a" stroke-width="0.4" stroke-linejoin="round" />
<polygon points="418.4,1047.4 445.2,1030.4 445.2,1056.6 418.4,1073" fill="none" stroke="#3a3a3a" stroke-width="0.45" stroke-linejoin="round" />
<polygon points="420.6,1050.4 443,1036.2 443,1054.6 420.6,1068.6" fill="#b4b4b4" stroke="#3a3a3a" stroke-width="0.4" stroke-linejoin="round" />
<path d="M420.6,1056 L443,1041.8 M424,1053.6 q4,-9 8,-10 q4,-1.5 7.6,1.8" fill="none" stroke="#f0f0f0" stroke-width="0.6" stroke-linejoin="round" />
<rect x="447.3" y="1036" width="1.6" height="5" fill="#888" stroke="#3a3a3a" stroke-width="0.3" />
<path d="M369.4,831 Q375.9,828 382.4,831 L382.4,834.6 Q375.9,838 369.4,834.6 Z" fill="#b8b8b8" stroke="#2b2b2b" stroke-width="0.4" stroke-linejoin="round" />
<rect x="372.2" y="823" width="7.4" height="8.4" fill="url(#pg2)" stroke="#2b2b2b" stroke-width="0.4" />
<path d="M367.7,815.5 Q369,823.5 373,824.6 L378.8,824.6 Q382.8,823.5 384.1,815.5 Z" fill="url(#pg2)" stroke="#2b2b2b" stroke-width="0.45" stroke-linejoin="round" />
<ellipse cx="375.9" cy="815.2" rx="8.2" ry="3.3" fill="#e9e9e9" stroke="#2b2b2b" stroke-width="0.5" />
<ellipse cx="375.9" cy="815.4" rx="5.6" ry="2" fill="#cfcfcf" stroke="#777" stroke-width="0.3" />
<line x1="382.6" y1="812.6" x2="399.2" y2="800.5" stroke="#2b2b2b" stroke-width="0.85" />
<line x1="328.5" y1="920.2" x2="377.1" y2="892.6" stroke="#2b2b2b" stroke-width="0.85" />
<line x1="424" y1="945" x2="377.1" y2="971.1" stroke="#2b2b2b" stroke-width="0.85" />
<line x1="437.5" y1="963.5" x2="397.7" y2="984" stroke="#2b2b2b" stroke-width="0.85" />
<line x1="328.5" y1="1017.4" x2="366.9" y2="995.6" stroke="#2b2b2b" stroke-width="0.85" />
<circle cx="323.9" cy="922.9" r="5.8" fill="#111"/><circle cx="323.9" cy="922.9" r="4.8" fill="none" stroke="#777" stroke-width="0.3"/><text x="323.9" y="926.5" font-size="10" font-weight="bold" fill="#fff" text-anchor="middle">4</text>
<circle cx="428.6" cy="942.3" r="5.8" fill="#111"/><circle cx="428.6" cy="942.3" r="4.8" fill="none" stroke="#777" stroke-width="0.3"/><text x="428.6" y="945.9" font-size="10" font-weight="bold" fill="#fff" text-anchor="middle">2</text>
<circle cx="442.2" cy="960.9" r="5.8" fill="#111"/><circle cx="442.2" cy="960.9" r="4.8" fill="none" stroke="#777" stroke-width="0.3"/><text x="442.2" y="964.1" font-size="9" font-weight="bold" fill="#fff" text-anchor="middle" textLength="8" lengthAdjust="spacingAndGlyphs">13</text>
<circle cx="323.9" cy="1020" r="5.8" fill="#111"/><circle cx="323.9" cy="1020" r="4.8" fill="none" stroke="#777" stroke-width="0.3"/><text x="323.9" y="1023.6" font-size="10" font-weight="bold" fill="#fff" text-anchor="middle">6</text></g>
<g id="c9"><g clip-path="url(#ph)">
<rect x="478" y="798.4" width="207.2" height="272.8" fill="#fdfdfd" stroke="none" stroke-width="0.6" />
<g filter="url(#bl9)">
<polygon points="545,920.5 686,815.8 686,872 641,920.5 558,951.5 545,951.5" fill="url(#rt)" stroke="none" stroke-width="0.6" stroke-linejoin="round" />
<polygon points="545,920.5 686,815.8 686,872 641,920.5 558,951.5 545,951.5" fill="url(#roofsh)" stroke="none" stroke-width="0.6" stroke-linejoin="round" />
<polygon points="560.4,915 613,875 617,878.5 566,918.5" fill="#e9eef2" stroke="#5a4a3e" stroke-width="0.6" stroke-linejoin="round" />
<line x1="564" y1="915.5" x2="614.5" y2="877.5" stroke="#6a6f76" stroke-width="1.1" />
<polygon points="478,916.6 545.6,918.4 547,952 508,955 478,922.5" fill="url(#rt2)" stroke="none" stroke-width="0.6" stroke-linejoin="round" />
<polygon points="478,921.5 508,950.6 508.6,955.4 478,926" fill="#b89872" stroke="none" stroke-width="0.6" stroke-linejoin="round" />
<polygon points="550,953.5 641,921 656,921 656,1072 550,1072" fill="url(#bw)" stroke="none" stroke-width="0.6" stroke-linejoin="round" />
<polygon points="550,953.5 641,921 656,921 656,940 550,975" fill="url(#eavesh)" stroke="none" stroke-width="0.6" stroke-linejoin="round" />
<polygon points="649,913.5 686,872.5 686,1072 655.7,1072 655.7,925" fill="url(#bw2)" stroke="none" stroke-width="0.6" stroke-linejoin="round" />
<polygon points="636.5,922.5 655.7,917 655.7,944 637,946.5" fill="#5b4834" stroke="none" stroke-width="0.6" stroke-linejoin="round" />
<polygon points="686,870.2 686,875.5 648,915.5 641.5,920.5 639.5,918.5" fill="#cdb38a" stroke="none" stroke-width="0.6" stroke-linejoin="round" />
<polygon points="547,950.2 638.5,920.6 640.5,923.2 548,954.2" fill="#2c2622" stroke="none" stroke-width="0.6" stroke-linejoin="round" />
<rect x="478" y="952" width="72.5" height="120" fill="#54452e" stroke="none" stroke-width="0.6" />
<polygon points="478,926 508,955 508,963 478,963" fill="#86705c" stroke="none" stroke-width="0.6" stroke-linejoin="round" />
<rect x="478" y="962" width="72.5" height="5" fill="#3a2f22" stroke="none" stroke-width="0.6" />
<rect x="494" y="970" width="16" height="70" fill="#8a8468" stroke="none" stroke-width="0.6" />
<rect x="518.5" y="968" width="16" height="102" fill="#8b866c" stroke="none" stroke-width="0.6" />
<rect x="478" y="965" width="16" height="106" fill="#3e3020" stroke="none" stroke-width="0.6" />
<rect x="511.5" y="965" width="6" height="106" fill="#3d3122" stroke="none" stroke-width="0.6" />
<rect x="536" y="962" width="14.5" height="110" fill="#4a3622" stroke="none" stroke-width="0.6" />
<rect x="486" y="976" width="6" height="9" fill="#1d1a17" stroke="none" stroke-width="0.6" />
<rect x="495" y="977" width="7" height="12" fill="#b5b09a" stroke="none" stroke-width="0.6" />
<polygon points="508.8,951.4 547.5,949.8 547.5,953.6 508.8,955.2" fill="#2c2622" stroke="none" stroke-width="0.6" stroke-linejoin="round" />
<ellipse cx="494" cy="1046" rx="24" ry="32" fill="url(#bush)" stroke="none" stroke-width="0.6" />
<ellipse cx="487" cy="1030" rx="10" ry="8" fill="#64843f" stroke="none" stroke-width="0.6" opacity="0.7"/>
<ellipse cx="503" cy="1052" rx="8" ry="9" fill="#4f6e34" stroke="none" stroke-width="0.6" opacity="0.7"/>
<path d="M590,1072 Q594,1053 612,1050.5 Q628,1050 632,1072 Z" fill="#8a5a34" stroke="none" stroke-width="0.6" stroke-linejoin="round" />
<path d="M598,1072 Q602,1058.5 612,1057.5 Q622,1057.5 625.5,1072 Z" fill="#b98a60" stroke="none" stroke-width="0.6" stroke-linejoin="round" />
<rect x="478" y="798.4" width="207.2" height="272.8" filter="url(#nz)" opacity="0.55"/>
<rect x="478" y="798.4" width="67" height="118" fill="#fdfdfd" stroke="none" stroke-width="0.6" />
<polygon points="545,798 686,798 686,815 545,919.8" fill="#fdfdfd" stroke="none" stroke-width="0.6" stroke-linejoin="round" />
</g>
<rect x="550" y="968" width="6.2" height="100" fill="#1f1c1a" stroke="none" stroke-width="0.6" />
<path d="M546,953 L556,953 L556.5,970 L549.8,970 Z" fill="#1f1c1a" stroke="none" stroke-width="0.6" stroke-linejoin="round" />
<polygon points="578,978 584.5,986 586.5,1013 578.4,1013" fill="#2b2b2d" stroke="none" stroke-width="0.6" stroke-linejoin="round" />
<polygon points="565.3,1015.3 590,1012 588.6,1045.5 583,1040" fill="#1d1d1f" stroke="none" stroke-width="0.6" stroke-linejoin="round" />
<path d="M545,810 L558.2,810 L558.4,950 L578.4,975.5 L578.4,1016 L567.9,1016 L567.9,980 L546.2,953 Z" fill="#1d1d1f" stroke="none" stroke-width="0.6" stroke-linejoin="round" />
<line x1="548.2" y1="812" x2="548.6" y2="950" stroke="#4e4e52" stroke-width="1" />
<path d="M570.2,982 L570.2,1014" fill="none" stroke="#48484c" stroke-width="0.9" stroke-linejoin="round" />
<ellipse cx="550.2" cy="808.6" rx="9.4" ry="2.9" fill="#1d1d1f" stroke="none" stroke-width="0.6" />
<rect x="546.5" y="804.6" width="7.5" height="3" fill="#1d1d1f" stroke="none" stroke-width="0.6" />
<line x1="557.5" y1="826.2" x2="664" y2="829.6" stroke="#3a3c40" stroke-width="1" />
<line x1="557.5" y1="830.5" x2="629.6" y2="872.3" stroke="#2c2d30" stroke-width="1.3" />
<path d="M587.5,1046 l2.5,9" fill="none" stroke="#9fb0c4" stroke-width="0.8" stroke-linejoin="round" />
</g></g>
</svg>
</body></html>
